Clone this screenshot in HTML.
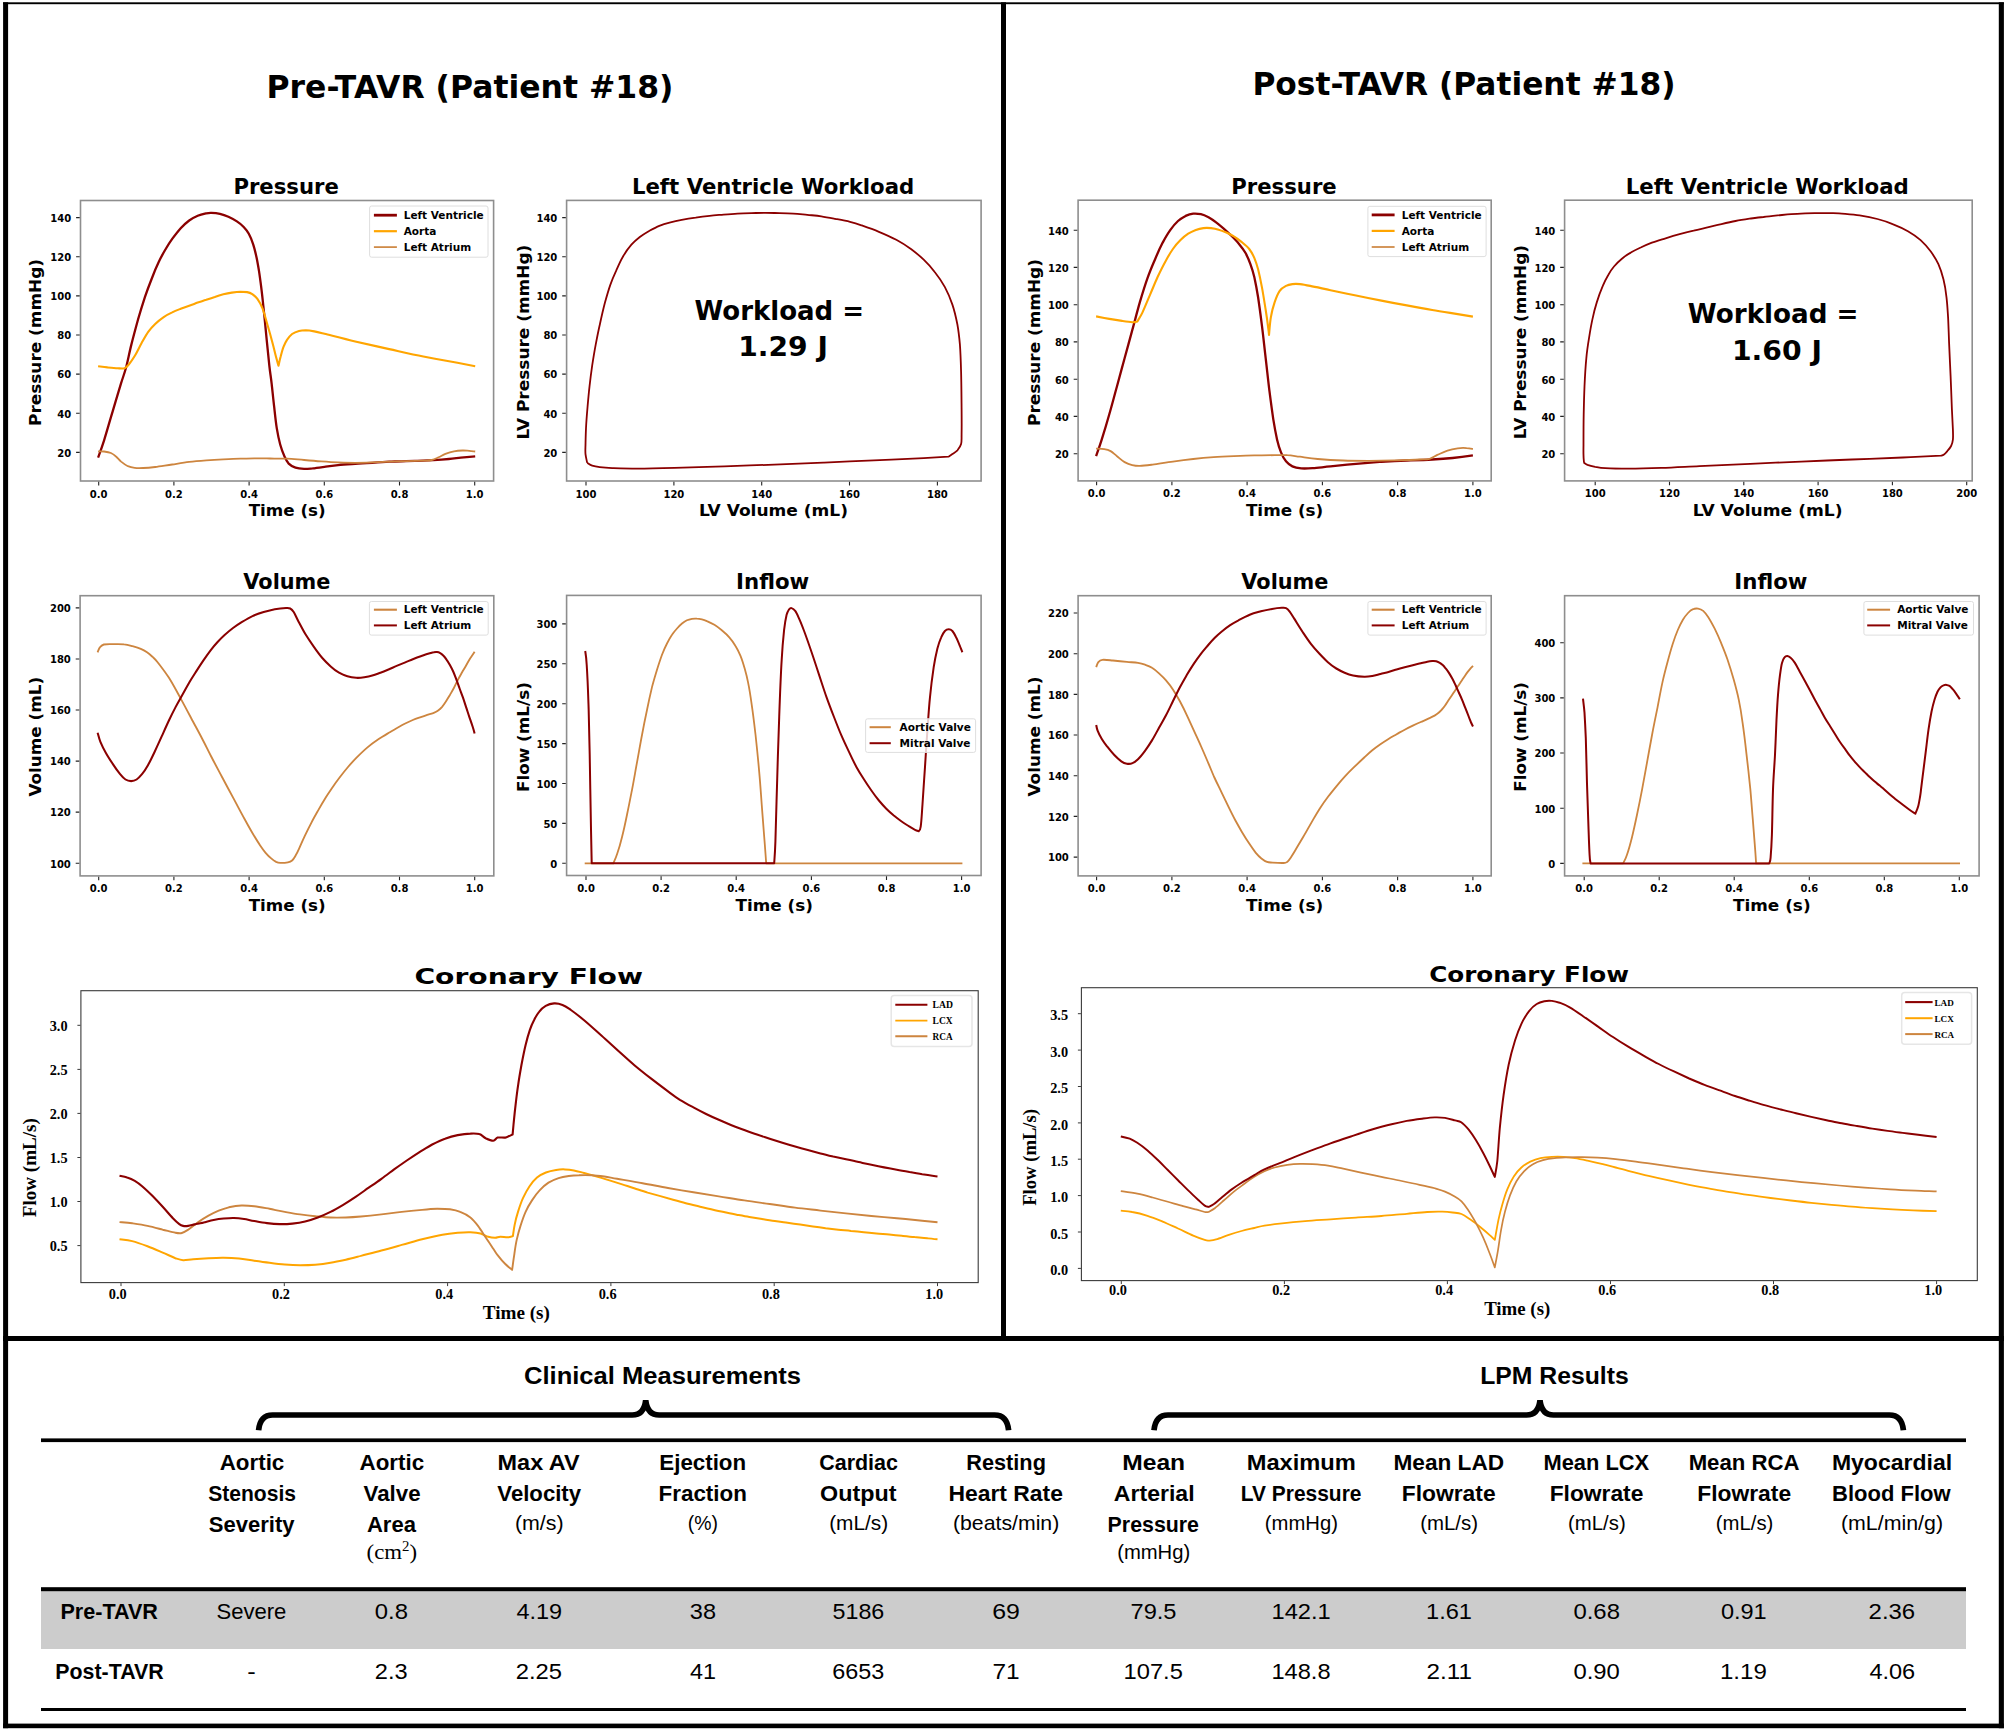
<!DOCTYPE html>
<html lang="en"><head><meta charset="utf-8"><title>Pre-TAVR vs Post-TAVR (Patient #18)</title>
<style>html,body{margin:0;padding:0;background:#fff}svg{display:block}</style></head><body>
<svg xmlns="http://www.w3.org/2000/svg" width="2006" height="1732" viewBox="0 0 2006 1732">
<rect width="2006" height="1732" fill="#fff"/>
<g fill="#000">
<rect x="3.1" y="2.3" width="2000.8" height="1.9"/>
<rect x="3.1" y="2.3" width="5" height="1725.9"/>
<rect x="1998.8" y="2.3" width="5.1" height="1725.9"/>
<rect x="3.1" y="1723.6" width="2000.8" height="4.6"/>
<rect x="3.1" y="1336" width="2000.8" height="5"/>
<rect x="1001" y="2.3" width="5" height="1336"/>
</g>
<text x="470" y="97.8" font-family="DejaVu Sans, Liberation Sans, sans-serif" font-size="31.6" font-weight="bold" text-anchor="middle" textLength="406.9" lengthAdjust="spacingAndGlyphs">Pre-TAVR (Patient #18)</text>
<text x="1464" y="94.8" font-family="DejaVu Sans, Liberation Sans, sans-serif" font-size="31.6" font-weight="bold" text-anchor="middle" textLength="423.1" lengthAdjust="spacingAndGlyphs">Post-TAVR (Patient #18)</text>
<g>
<path d="M98.1 457.6C99.1 454.8 101.7 447.9 104.1 440.3C106.5 432.6 109.7 421.2 112.6 411.7C115.4 402.1 118.8 390.7 121.1 383.2C123.4 375.8 124.5 373.4 126.2 367C127.9 360.6 129.3 352.8 131.3 344.9C133.3 336.9 135.9 327.3 138.1 319.3C140.4 311.4 142.7 304 144.9 297.2C147.2 290.4 149.5 284.3 151.8 278.5C154 272.6 156.3 267.1 158.6 262.3C160.8 257.5 163.1 253.4 165.4 249.5C167.7 245.6 169.6 242.5 172.2 238.9C174.8 235.4 177.9 231.3 180.7 228.2C183.6 225.1 186.4 222.6 189.2 220.5C192.1 218.5 194.9 217 197.7 215.8C200.6 214.6 204 213.9 206.3 213.4C208.5 212.9 209.1 212.8 211.4 212.9C213.6 213 217.1 213.3 219.9 213.9C222.7 214.6 225.6 215.6 228.4 216.8C231.2 218.1 234.4 219.7 236.9 221.4C239.5 223.1 241.7 224.9 243.7 227C245.7 229.1 247.3 231 248.8 233.8C250.4 236.7 251.8 240.2 253.1 244.1C254.4 247.9 255.5 252.6 256.5 257.2C257.5 261.8 258.2 266.1 259.1 271.6C259.9 277.2 260.8 283.3 261.6 290.4C262.5 297.5 263.3 306 264.2 314.2C265 322.5 265.9 331.3 266.7 339.8C267.6 348.3 268.5 357.9 269.3 365.3C270.1 372.7 270.9 377 271.7 384.1C272.5 391.2 273.4 400.5 274.3 407.9C275.1 415.3 275.8 422.2 276.8 428.4C277.8 434.5 278.9 439.8 280.2 444.5C281.5 449.2 283.1 453.3 284.5 456.5C285.9 459.6 286.9 461.7 288.7 463.6C290.6 465.5 293 466.8 295.5 467.7C298.1 468.6 301.2 468.8 304.1 468.9C306.9 469 309.2 468.7 312.6 468.4C316 468 320.2 467.4 324.5 466.8C328.8 466.3 333 465.7 338.1 465.1C343.2 464.6 349.5 464.2 355.2 463.8C360.8 463.4 366.5 463.1 372.2 462.8C377.9 462.4 383.6 462 389.2 461.7C394.9 461.5 400.6 461.2 406.3 461.1C411.9 460.9 418.8 460.9 423.3 460.7C427.8 460.6 429.3 460.5 433.5 460.2C437.8 459.9 444.3 459.4 448.8 459C453.4 458.6 456.4 458.1 460.8 457.6C465.2 457.2 472.8 456.5 475.2 456.3" fill="none" stroke="#8b0000" stroke-width="2.3" stroke-linejoin="round" stroke-linecap="butt"/>
<path d="M98.1 366.2C99.7 366.4 104.2 367 107.5 367.4C110.7 367.7 114.9 368.1 117.7 368.2C120.5 368.4 122.7 368.8 124.5 368.2C126.4 367.6 127.1 366.5 128.8 364.5C130.5 362.4 132.6 359.5 134.7 356C136.9 352.4 139.3 347.2 141.5 343.2C143.8 339.1 146.1 334.8 148.4 331.6C150.6 328.4 152.6 326.4 155.2 323.9C157.7 321.5 160.8 319.1 163.7 317.1C166.5 315.2 169.4 313.7 172.2 312.4C175 311 177.9 309.9 180.7 308.8C183.6 307.7 186.4 306.7 189.2 305.7C192.1 304.7 194.9 303.6 197.7 302.6C200.6 301.7 203.4 300.7 206.3 299.8C209.1 298.8 211.9 297.8 214.8 296.9C217.6 295.9 220.5 295 223.3 294.3C226.1 293.6 229 293 231.8 292.6C234.7 292.2 237.8 291.8 240.3 291.7C242.9 291.7 245.2 291.7 247.1 292.1C249.1 292.5 250.5 293 252.3 294.1C254 295.3 255.7 296.5 257.4 298.9C259.1 301.3 260.8 303.9 262.5 308.3C264.2 312.7 265.9 319.5 267.6 325.3C269.3 331.1 271.2 337.9 272.6 343.2C274 348.4 275 353 276 356.8C277 360.6 278.1 364.3 278.5 365.8C278.9 364.3 279.7 360 280.6 356.8C281.4 353.6 282.5 349.4 283.6 346.6C284.7 343.8 285.6 341.9 287 339.8C288.5 337.7 290.2 335.5 292.1 334C294.1 332.5 296.7 331.5 299 330.9C301.2 330.3 303.2 330.2 305.8 330.2C308.3 330.3 311.2 330.8 314.3 331.4C317.4 332 317.7 332.1 324.5 333.8C331.3 335.5 344.4 338.9 355.2 341.5C366 344 377.9 346.6 389.2 349.1C400.6 351.6 411.9 354.2 423.3 356.5C434.7 358.7 448.7 361.2 457.4 362.8C466 364.4 472.3 365.6 475.2 366.2" fill="none" stroke="#ffa500" stroke-width="2.1" stroke-linejoin="round" stroke-linecap="butt"/>
<path d="M98.1 451.3C99.1 451.4 101.9 451.2 104.1 451.5C106.2 451.8 108.9 452.2 110.9 453C112.9 453.9 114.3 455 116 456.5C117.7 457.9 119.1 459.9 121.1 461.6C123.1 463.2 125.6 465.1 127.9 466.2C130.2 467.2 132.2 467.6 134.7 467.9C137.3 468.2 139.8 468.2 143.2 468C146.6 467.9 150.3 467.6 155.2 467C160 466.4 166.5 465.3 172.2 464.5C177.9 463.6 183.6 462.6 189.2 461.9C194.9 461.2 200.6 460.8 206.3 460.4C211.9 459.9 217.6 459.6 223.3 459.4C229 459.1 234.7 458.8 240.3 458.7C246 458.5 252.4 458.4 257.4 458.3C262.3 458.3 265.1 458.4 270 458.5C274.9 458.6 281.4 458.4 287 458.7C292.7 458.9 298.4 459.6 304.1 460C309.7 460.5 315.4 461 321.1 461.4C326.8 461.8 332.5 462.2 338.1 462.4C343.8 462.6 349.5 462.8 355.2 462.8C360.8 462.8 366.5 462.6 372.2 462.4C377.9 462.2 383.6 461.9 389.2 461.7C394.9 461.5 400.6 461.4 406.3 461.2C411.9 461.1 419 460.9 423.3 460.7C427.6 460.5 429.3 460.6 431.8 460C434.4 459.5 436.4 458.3 438.6 457.3C440.9 456.3 442.9 454.9 445.4 453.9C448 452.9 451.1 451.9 454 451.3C456.8 450.8 459.9 450.6 462.5 450.5C465 450.4 467.2 450.7 469.3 450.8C471.4 451 474.3 451.4 475.2 451.5" fill="none" stroke="#cd853f" stroke-width="1.8" stroke-linejoin="round" stroke-linecap="butt"/>
<rect x="80.5" y="200.5" width="413.1" height="280.5" fill="none" stroke="#8e8e8e" stroke-width="1.6"/>
<path d="M98.7 481.8v3.6M173.9 481.8v3.6M249.1 481.8v3.6M324.3 481.8v3.6M399.5 481.8v3.6M474.7 481.8v3.6M79.7 452.4h-3.6M79.7 413.3h-3.6M79.7 374.1h-3.6M79.7 335h-3.6M79.7 295.9h-3.6M79.7 256.7h-3.6M79.7 217.6h-3.6" stroke="#222" stroke-width="1.1" fill="none"/>
<text x="98.7" y="497.5" font-family="DejaVu Sans, Liberation Sans, sans-serif" font-size="10" font-weight="bold" text-anchor="middle">0.0</text>
<text x="173.9" y="497.5" font-family="DejaVu Sans, Liberation Sans, sans-serif" font-size="10" font-weight="bold" text-anchor="middle">0.2</text>
<text x="249.1" y="497.5" font-family="DejaVu Sans, Liberation Sans, sans-serif" font-size="10" font-weight="bold" text-anchor="middle">0.4</text>
<text x="324.3" y="497.5" font-family="DejaVu Sans, Liberation Sans, sans-serif" font-size="10" font-weight="bold" text-anchor="middle">0.6</text>
<text x="399.5" y="497.5" font-family="DejaVu Sans, Liberation Sans, sans-serif" font-size="10" font-weight="bold" text-anchor="middle">0.8</text>
<text x="474.7" y="497.5" font-family="DejaVu Sans, Liberation Sans, sans-serif" font-size="10" font-weight="bold" text-anchor="middle">1.0</text>
<text x="71.2" y="456.7" font-family="DejaVu Sans, Liberation Sans, sans-serif" font-size="10" font-weight="bold" text-anchor="end">20</text>
<text x="71.2" y="417.6" font-family="DejaVu Sans, Liberation Sans, sans-serif" font-size="10" font-weight="bold" text-anchor="end">40</text>
<text x="71.2" y="378.4" font-family="DejaVu Sans, Liberation Sans, sans-serif" font-size="10" font-weight="bold" text-anchor="end">60</text>
<text x="71.2" y="339.3" font-family="DejaVu Sans, Liberation Sans, sans-serif" font-size="10" font-weight="bold" text-anchor="end">80</text>
<text x="71.2" y="300.2" font-family="DejaVu Sans, Liberation Sans, sans-serif" font-size="10" font-weight="bold" text-anchor="end">100</text>
<text x="71.2" y="261" font-family="DejaVu Sans, Liberation Sans, sans-serif" font-size="10" font-weight="bold" text-anchor="end">120</text>
<text x="71.2" y="221.9" font-family="DejaVu Sans, Liberation Sans, sans-serif" font-size="10" font-weight="bold" text-anchor="end">140</text>
<text x="286.1" y="194.3" font-family="DejaVu Sans, Liberation Sans, sans-serif" font-size="20.7" font-weight="bold" text-anchor="middle" textLength="105.4" lengthAdjust="spacingAndGlyphs">Pressure</text>
<text x="287.2" y="516" font-family="DejaVu Sans, Liberation Sans, sans-serif" font-size="16.6" font-weight="bold" text-anchor="middle" textLength="77" lengthAdjust="spacingAndGlyphs">Time (s)</text>
<text x="41.2" y="342.5" font-family="DejaVu Sans, Liberation Sans, sans-serif" font-size="16.6" font-weight="bold" text-anchor="middle" textLength="166.9" lengthAdjust="spacingAndGlyphs" transform="rotate(-90 41.2 342.5)">Pressure (mmHg)</text>
<rect x="369.6" y="206" width="118.4" height="51.2" rx="2" fill="#fff" fill-opacity="0.8" stroke="#dedede" stroke-width="1"/>
<path d="M373.9 215.2H396.9" stroke="#8b0000" stroke-width="2.8"/>
<text x="403.7" y="218.8" font-family="DejaVu Sans, Liberation Sans, sans-serif" font-size="10.5" font-weight="bold">Left Ventricle</text>
<path d="M373.9 231.2H396.9" stroke="#ffa500" stroke-width="2.2"/>
<text x="403.7" y="234.8" font-family="DejaVu Sans, Liberation Sans, sans-serif" font-size="10.5" font-weight="bold">Aorta</text>
<path d="M373.9 247.1H396.9" stroke="#cd853f" stroke-width="1.7"/>
<text x="403.7" y="250.7" font-family="DejaVu Sans, Liberation Sans, sans-serif" font-size="10.5" font-weight="bold">Left Atrium</text>
</g>
<g>
<path d="M587.2 462.8C586.9 461.4 585.8 457.1 585.5 454.1C585.2 451.1 585.4 449.2 585.5 444.9C585.6 440.6 585.7 434.4 586 428.2C586.3 422 586.9 414.4 587.5 407.5C588.1 400.6 588.7 393.6 589.5 386.6C590.3 379.5 591.2 372.4 592.2 365.4C593.3 358.4 594.4 351.6 595.7 344.7C597 337.8 598.4 330.7 600 323.8C601.5 316.8 603.2 309.3 604.9 302.8C606.7 296.3 608.5 290 610.4 284.6C612.3 279.3 614.1 275.3 616.2 270.7C618.2 266 620.3 261 622.9 256.7C625.4 252.4 628.5 248 631.4 244.7C634.2 241.5 637 239.2 639.8 237C642.7 234.8 645.1 233.4 648.3 231.5C651.5 229.7 655.6 227.3 659.3 225.8C663 224.3 666.7 223.3 670.5 222.3C674.2 221.3 677.5 220.6 681.7 219.8C685.9 219 691 218.2 695.7 217.6C700.3 216.9 705 216.3 709.6 215.8C714.3 215.3 718.9 215 723.6 214.6C728.2 214.2 732.9 213.8 737.5 213.6C742.2 213.3 746.8 213.2 751.5 213.1C756.1 213 760.8 212.8 765.5 212.8C770.1 212.8 774.8 213 779.4 213.1C784.1 213.2 788.7 213.3 793.4 213.6C798 213.9 802.7 214.4 807.3 214.8C812 215.3 816.6 215.7 821.3 216.3C825.9 217 830.5 217.9 835.2 218.8C840 219.7 845.6 220.7 850 221.8C854.3 222.9 856.6 223.6 861.4 225.3C866.2 227 873 229.4 878.9 231.8C884.7 234.2 890.9 236.9 896.3 239.8C901.7 242.7 906.7 245.9 911.3 249.2C915.8 252.6 919.8 255.9 923.7 259.7C927.7 263.5 931.4 267.6 934.9 272.2C938.5 276.7 942 281.7 944.9 287.1C947.8 292.5 950.3 298.3 952.4 304.6C954.5 310.8 956.1 317.9 957.4 324.5C958.6 331.2 959.2 336.6 959.9 344.4C960.5 352.3 960.8 361.1 961.1 371.9C961.4 382.7 961.5 398.9 961.6 409.3C961.7 419.6 961.7 428.4 961.6 434.2C961.5 440 961.8 441.4 961.1 444.1C960.4 446.8 958.8 448.7 957.4 450.4C955.9 452 953.8 453.1 952.4 454.1C950.9 455.2 949.3 456.2 948.7 456.6C944.5 456.9 936.2 457.5 923.7 458.1C911.3 458.7 890.5 459.6 873.9 460.3C857.3 461.1 840.6 461.9 824 462.6C807.4 463.3 790.8 464 774.2 464.6C757.6 465.2 740.9 465.8 724.3 466.3C707.7 466.9 689 467.5 674.5 467.8C659.9 468.2 647.5 468.5 637.1 468.6C626.7 468.6 618.4 468.3 612.2 468.1C605.9 467.8 603 467.5 599.7 467.1C596.4 466.7 594.3 466.3 592.2 465.6C590.1 464.9 588.1 463.3 587.2 462.8" fill="none" stroke="#8b0000" stroke-width="1.8" stroke-linejoin="round" stroke-linecap="butt"/>
<rect x="566.6" y="200.4" width="414.5" height="280.6" fill="none" stroke="#8e8e8e" stroke-width="1.6"/>
<path d="M586 481.8v3.6M673.9 481.8v3.6M761.7 481.8v3.6M849.5 481.8v3.6M937.4 481.8v3.6M565.8 452.4h-3.6M565.8 413.3h-3.6M565.8 374.1h-3.6M565.8 335h-3.6M565.8 295.9h-3.6M565.8 256.7h-3.6M565.8 217.6h-3.6" stroke="#222" stroke-width="1.1" fill="none"/>
<text x="586" y="497.5" font-family="DejaVu Sans, Liberation Sans, sans-serif" font-size="10" font-weight="bold" text-anchor="middle">100</text>
<text x="673.9" y="497.5" font-family="DejaVu Sans, Liberation Sans, sans-serif" font-size="10" font-weight="bold" text-anchor="middle">120</text>
<text x="761.7" y="497.5" font-family="DejaVu Sans, Liberation Sans, sans-serif" font-size="10" font-weight="bold" text-anchor="middle">140</text>
<text x="849.5" y="497.5" font-family="DejaVu Sans, Liberation Sans, sans-serif" font-size="10" font-weight="bold" text-anchor="middle">160</text>
<text x="937.4" y="497.5" font-family="DejaVu Sans, Liberation Sans, sans-serif" font-size="10" font-weight="bold" text-anchor="middle">180</text>
<text x="557.3" y="456.7" font-family="DejaVu Sans, Liberation Sans, sans-serif" font-size="10" font-weight="bold" text-anchor="end">20</text>
<text x="557.3" y="417.6" font-family="DejaVu Sans, Liberation Sans, sans-serif" font-size="10" font-weight="bold" text-anchor="end">40</text>
<text x="557.3" y="378.4" font-family="DejaVu Sans, Liberation Sans, sans-serif" font-size="10" font-weight="bold" text-anchor="end">60</text>
<text x="557.3" y="339.3" font-family="DejaVu Sans, Liberation Sans, sans-serif" font-size="10" font-weight="bold" text-anchor="end">80</text>
<text x="557.3" y="300.2" font-family="DejaVu Sans, Liberation Sans, sans-serif" font-size="10" font-weight="bold" text-anchor="end">100</text>
<text x="557.3" y="261" font-family="DejaVu Sans, Liberation Sans, sans-serif" font-size="10" font-weight="bold" text-anchor="end">120</text>
<text x="557.3" y="221.9" font-family="DejaVu Sans, Liberation Sans, sans-serif" font-size="10" font-weight="bold" text-anchor="end">140</text>
<text x="773.1" y="194.1" font-family="DejaVu Sans, Liberation Sans, sans-serif" font-size="20.7" font-weight="bold" text-anchor="middle" textLength="282.3" lengthAdjust="spacingAndGlyphs">Left Ventricle Workload</text>
<text x="773.5" y="516.4" font-family="DejaVu Sans, Liberation Sans, sans-serif" font-size="16.6" font-weight="bold" text-anchor="middle" textLength="148.9" lengthAdjust="spacingAndGlyphs">LV Volume (mL)</text>
<text x="529.2" y="342.1" font-family="DejaVu Sans, Liberation Sans, sans-serif" font-size="16.6" font-weight="bold" text-anchor="middle" textLength="194.9" lengthAdjust="spacingAndGlyphs" transform="rotate(-90 529.2 342.1)">LV Pressure (mmHg)</text>
<text x="779.3" y="319.5" font-family="DejaVu Sans, Liberation Sans, sans-serif" font-size="26.8" font-weight="bold" text-anchor="middle" textLength="169.6" lengthAdjust="spacingAndGlyphs">Workload =</text>
<text x="783.1" y="355.7" font-family="DejaVu Sans, Liberation Sans, sans-serif" font-size="26.8" font-weight="bold" text-anchor="middle" textLength="89.7" lengthAdjust="spacingAndGlyphs">1.29 J</text>
</g>
<g>
<path d="M97.6 652.4C97.9 651.6 98.7 648.9 99.7 647.6C100.7 646.3 101.6 645.1 103.8 644.5C106 643.9 109.5 644.1 112.9 644.1C116.3 644.1 120.8 643.9 124.1 644.3C127.4 644.6 129.7 645.4 132.5 646.2C135.3 647 138.4 647.9 140.8 648.9C143.2 649.9 145.1 651 147 652.3C148.9 653.6 150.6 655.1 152.4 656.7C154.2 658.4 154.9 658.7 157.6 662.2C160.3 665.7 165.1 671.8 168.8 677.6C172.5 683.4 176.2 690.4 179.9 697.1C183.6 703.8 187.4 711 191.1 718C194.8 725 199 732.6 202.3 739C205.7 745.4 207.9 750.1 211.2 756.5C214.5 762.9 218.6 770.5 222.3 777.5C226 784.5 229.8 791.4 233.5 798.4C237.2 805.4 241.4 813.4 244.7 819.3C247.9 825.2 250.4 829.7 253 834C255.6 838.3 257.9 842.1 260 845.2C262.1 848.3 263.7 850.6 265.6 852.8C267.5 855 269.4 856.9 271.2 858.4C272.9 859.9 274.6 861.1 276.1 861.9C277.6 862.6 278.3 862.8 280.3 862.9C282.3 863 285.9 862.7 287.9 862.3C289.9 861.9 290.8 861.6 292.1 860.5C293.4 859.4 294.4 857.6 295.6 855.6C296.8 853.6 297.6 851.9 299.1 848.6C300.6 845.4 302.6 840.5 304.7 836.1C306.8 831.7 309.4 826.5 311.7 822.1C314 817.7 316.3 813.7 318.6 809.6C320.9 805.5 323.3 801.4 325.6 797.7C327.9 794 330.3 790.6 332.6 787.2C334.9 783.8 337 780.9 339.6 777.5C342.2 774.1 345.2 770.3 348 767C350.8 763.7 353.1 761.2 356.3 757.9C359.6 754.6 363.8 750.5 367.5 747.4C371.2 744.3 375 741.6 378.7 739.1C382.4 736.6 386.8 734.1 389.8 732.3C392.8 730.5 394.1 729.7 396.6 728.3C399.1 726.9 402 725.2 404.7 723.8C407.4 722.4 410.1 721.1 412.8 720C415.5 718.9 418.1 718.1 420.8 717.2C423.5 716.3 426.7 715.1 428.9 714.4C431.1 713.7 432.3 713.4 433.8 712.8C435.3 712.2 436.5 711.7 437.8 710.7C439.1 709.8 440.5 708.7 441.9 707.1C443.2 705.5 444.6 703.4 445.9 701.4C447.2 699.4 448.5 697.3 449.9 695C451.2 692.7 452.6 690.3 454 687.7C455.4 685.1 456.6 682.2 458 679.6C459.4 677 460.8 674.6 462.1 672.3C463.5 669.9 464.8 667.8 466.1 665.5C467.4 663.2 468.7 660.9 470.1 658.6C471.5 656.3 473.9 652.9 474.6 651.7" fill="none" stroke="#cd853f" stroke-width="1.85" stroke-linejoin="round" stroke-linecap="butt"/>
<path d="M97.6 732.7C98.1 734.2 99 738.4 100.4 741.8C101.8 745.2 103.8 749.2 105.9 752.9C108 756.6 110.6 760.6 112.9 764.1C115.2 767.6 117.8 771.3 119.9 773.9C122 776.5 123.6 778.3 125.5 779.5C127.4 780.7 129.2 781.1 131.1 781.1C132.9 781.1 134.8 780.7 136.6 779.5C138.4 778.3 140.3 776.2 142.2 773.9C144.1 771.6 145.7 769.2 147.8 765.5C149.9 761.8 152.5 756.4 154.8 751.5C157.1 746.6 159.5 741.3 161.8 736.2C164.1 731.1 166.5 725.7 168.8 720.8C171.1 715.9 173.4 711.3 175.7 706.9C178 702.5 180.4 698.5 182.7 694.3C185 690.1 187.4 685.8 189.7 681.8C192 677.8 194.4 674.2 196.7 670.6C199 667 201.3 663.5 203.6 660.1C205.9 656.7 208.3 653.3 210.6 650.3C212.9 647.3 215.3 644.5 217.6 642C219.9 639.5 222 637.3 224.6 635C227.2 632.7 230.2 630.1 233 628C235.8 625.9 238.1 624.4 241.3 622.4C244.6 620.4 248.8 617.8 252.5 616.1C256.2 614.4 260 613.1 263.7 612C267.4 610.9 271.1 609.9 274.8 609.2C278.5 608.6 283.4 608.2 286 608.1C288.6 608 288.9 607.9 290.2 608.5C291.5 609.1 292.3 609.8 293.7 612C295.1 614.2 296.6 618 298.6 621.7C300.6 625.4 302.9 630.1 305.5 634.3C308.1 638.5 311.1 642.9 313.9 646.9C316.7 650.9 319.5 654.8 322.3 658C325.1 661.2 327.9 663.9 330.7 666.4C333.5 668.9 336.2 671.1 339 672.7C341.8 674.3 344.5 675.4 347.4 676.2C350.3 677.1 353.4 677.6 356.2 677.8C359 678 361.6 677.7 364.3 677.3C367 676.9 369.6 676.4 372.3 675.6C375 674.8 377.7 673.7 380.4 672.7C383.1 671.7 385.8 670.6 388.5 669.5C391.2 668.4 393.9 667 396.6 665.9C399.3 664.8 402 663.7 404.7 662.6C407.4 661.5 410.1 660.3 412.8 659.2C415.5 658.1 418.1 657.1 420.8 656.2C423.5 655.3 426.7 654.2 428.9 653.6C431.1 653 432.4 652.5 433.8 652.3C435.2 652 435.9 652 437 652.1C438.1 652.2 439.1 652.5 440.2 653.1C441.3 653.7 442.4 654.7 443.5 655.8C444.6 656.9 445.6 658.2 446.7 659.8C447.8 661.3 448.8 663.1 449.9 665.1C451 667.1 452.1 669.1 453.2 671.5C454.3 673.9 455.3 676.8 456.4 679.6C457.5 682.4 458.5 685.5 459.6 688.5C460.7 691.5 461.8 694.3 462.9 697.4C464 700.5 465 703.9 466.1 707.1C467.2 710.3 468.2 713.6 469.3 716.8C470.4 720 471.7 723.7 472.6 726.5C473.5 729.3 474.3 732.2 474.6 733.4" fill="none" stroke="#8b0000" stroke-width="2.05" stroke-linejoin="round" stroke-linecap="butt"/>
<rect x="80.1" y="595.7" width="413.7" height="280.2" fill="none" stroke="#8e8e8e" stroke-width="1.6"/>
<path d="M98.7 876.7v3.6M173.9 876.7v3.6M249.1 876.7v3.6M324.3 876.7v3.6M399.5 876.7v3.6M474.7 876.7v3.6M79.3 863.2h-3.6M79.3 812.1h-3.6M79.3 761.1h-3.6M79.3 710h-3.6M79.3 659h-3.6M79.3 607.9h-3.6" stroke="#222" stroke-width="1.1" fill="none"/>
<text x="98.7" y="892.4" font-family="DejaVu Sans, Liberation Sans, sans-serif" font-size="10" font-weight="bold" text-anchor="middle">0.0</text>
<text x="173.9" y="892.4" font-family="DejaVu Sans, Liberation Sans, sans-serif" font-size="10" font-weight="bold" text-anchor="middle">0.2</text>
<text x="249.1" y="892.4" font-family="DejaVu Sans, Liberation Sans, sans-serif" font-size="10" font-weight="bold" text-anchor="middle">0.4</text>
<text x="324.3" y="892.4" font-family="DejaVu Sans, Liberation Sans, sans-serif" font-size="10" font-weight="bold" text-anchor="middle">0.6</text>
<text x="399.5" y="892.4" font-family="DejaVu Sans, Liberation Sans, sans-serif" font-size="10" font-weight="bold" text-anchor="middle">0.8</text>
<text x="474.7" y="892.4" font-family="DejaVu Sans, Liberation Sans, sans-serif" font-size="10" font-weight="bold" text-anchor="middle">1.0</text>
<text x="70.8" y="867.5" font-family="DejaVu Sans, Liberation Sans, sans-serif" font-size="10" font-weight="bold" text-anchor="end">100</text>
<text x="70.8" y="816.4" font-family="DejaVu Sans, Liberation Sans, sans-serif" font-size="10" font-weight="bold" text-anchor="end">120</text>
<text x="70.8" y="765.4" font-family="DejaVu Sans, Liberation Sans, sans-serif" font-size="10" font-weight="bold" text-anchor="end">140</text>
<text x="70.8" y="714.3" font-family="DejaVu Sans, Liberation Sans, sans-serif" font-size="10" font-weight="bold" text-anchor="end">160</text>
<text x="70.8" y="663.3" font-family="DejaVu Sans, Liberation Sans, sans-serif" font-size="10" font-weight="bold" text-anchor="end">180</text>
<text x="70.8" y="612.2" font-family="DejaVu Sans, Liberation Sans, sans-serif" font-size="10" font-weight="bold" text-anchor="end">200</text>
<text x="286.9" y="589.4" font-family="DejaVu Sans, Liberation Sans, sans-serif" font-size="20.7" font-weight="bold" text-anchor="middle" textLength="87.1" lengthAdjust="spacingAndGlyphs">Volume</text>
<text x="287.2" y="911" font-family="DejaVu Sans, Liberation Sans, sans-serif" font-size="16.6" font-weight="bold" text-anchor="middle" textLength="77" lengthAdjust="spacingAndGlyphs">Time (s)</text>
<text x="41.2" y="736.7" font-family="DejaVu Sans, Liberation Sans, sans-serif" font-size="16.6" font-weight="bold" text-anchor="middle" textLength="119.7" lengthAdjust="spacingAndGlyphs" transform="rotate(-90 41.2 736.7)">Volume (mL)</text>
<rect x="369.4" y="601.5" width="118.8" height="33.6" rx="2" fill="#fff" fill-opacity="0.8" stroke="#dedede" stroke-width="1"/>
<path d="M373.9 609.7H396.9" stroke="#cd853f" stroke-width="2.1"/>
<text x="403.7" y="613.3" font-family="DejaVu Sans, Liberation Sans, sans-serif" font-size="10.5" font-weight="bold">Left Ventricle</text>
<path d="M373.9 625.4H396.9" stroke="#8b0000" stroke-width="2.0"/>
<text x="403.7" y="629" font-family="DejaVu Sans, Liberation Sans, sans-serif" font-size="10.5" font-weight="bold">Left Atrium</text>
</g>
<g>
<path d="M584.7 863.3L613.4 863.3C614 861.8 615.7 858.5 617.1 854.1C618.6 849.7 620.5 843.3 622.1 836.7C623.8 830 625.5 822.1 627.1 814.2C628.8 806.3 630.4 798 632.1 789.3C633.8 780.6 635.4 771 637.1 761.9C638.8 752.7 640.4 743.2 642.1 734.5C643.7 725.7 645.4 717.4 647.1 709.5C648.7 701.6 650.4 693.8 652 687.1C653.7 680.5 655.4 675.1 657 669.7C658.7 664.3 660.4 659.1 662 654.7C663.7 650.3 665.3 646.8 667 643.5C668.7 640.2 670.3 637.3 672 634.8C673.6 632.3 675.3 630.4 677 628.5C678.6 626.7 680.3 624.9 682 623.5C683.6 622.2 685.3 621.1 686.9 620.3C688.6 619.5 690.3 619.1 691.9 618.8C693.6 618.5 695.2 618.5 696.9 618.6C698.6 618.6 700.2 618.9 701.9 619.3C703.6 619.7 704.8 620.1 706.9 621.1C709 622 711.9 623.3 714.4 624.8C716.8 626.3 719.3 628.2 721.8 630.3C724.3 632.4 727 634.6 729.3 637.3C731.6 639.9 733.7 642.9 735.5 646C737.4 649.1 739.1 652.4 740.5 655.9C742 659.5 743 662.8 744.3 667.2C745.5 671.5 746.8 675.9 748 682.1C749.3 688.3 750.5 695.8 751.7 704.6C753 713.3 754.2 723.2 755.5 734.5C756.7 745.7 758.2 760.2 759.2 771.8C760.3 783.5 760.9 793.5 761.7 804.3C762.5 815.1 763.5 826.8 764.2 836.7C765 846.5 765.9 858.9 766.2 863.3L962.4 863.3" fill="none" stroke="#cd853f" stroke-width="1.8" stroke-linejoin="round" stroke-linecap="butt"/>
<path d="M585.2 651C585.5 653.2 586.2 655.7 586.7 664.7C587.3 673.6 588 689.6 588.5 704.6C589 719.5 589.3 733.6 589.7 754.4C590.1 775.2 590.6 811 591 829.2C591.3 847.3 591.6 857.6 591.7 863.3L774.2 863.3C774.4 859.7 774.9 855.6 775.4 841.6C775.9 827.6 776.5 800.1 777.2 779.3C777.8 758.6 778.4 737 779.2 717C779.9 697.1 780.8 674.2 781.7 659.7C782.5 645.1 783.3 637.3 784.1 629.8C785 622.3 785.8 618.2 786.6 614.8C787.5 611.4 788.3 610.5 789.1 609.3C790 608.2 790.6 607.8 791.6 608.1C792.7 608.4 794.1 609.3 795.4 611.1C796.6 612.8 797.6 615.2 799.1 618.6C800.6 621.9 802 625.4 804.1 631C806.2 636.6 809.1 644.9 811.6 652.2C814.1 659.5 816.6 667.2 819 674.6C821.5 682.1 824 690 826.5 697.1C829 704.1 831.5 710.6 834 717C836.5 723.5 839 729.9 841.5 735.7C844 741.5 846.5 746.7 849 751.9C851.4 757.1 853.9 762.3 856.4 766.9C858.9 771.4 861.4 775.4 863.9 779.3C866.4 783.3 868.9 787 871.4 790.5C873.9 794.1 876.4 797.5 878.9 800.5C881.4 803.5 883.8 806.2 886.3 808.7C888.8 811.2 891.3 813.4 893.8 815.5C896.3 817.5 898.8 819.4 901.3 821.2C903.8 823 906.5 824.7 908.8 826.2C911.1 827.6 913.3 829.1 915 829.9C916.7 830.8 918.1 831 918.7 831.2C919.1 830.4 920.1 831.2 920.7 826.7C921.4 822.2 921.8 814.2 922.5 804.3C923.2 794.3 924.1 779.3 925 766.9C925.8 754.4 926.6 741.1 927.5 729.5C928.3 717.8 928.9 707.5 930 697.1C931 686.7 932.5 675.3 933.7 667.2C934.9 659.1 936.2 653.5 937.4 648.5C938.7 643.5 939.9 640.2 941.2 637.3C942.4 634.3 943.7 632.4 944.9 631C946.2 629.7 947.4 629.3 948.7 629.3C949.9 629.3 951.1 629.7 952.4 631C953.6 632.4 954.9 634.8 956.1 637.3C957.4 639.7 958.8 643.5 959.9 646C960.9 648.5 961.9 651.2 962.4 652.2" fill="none" stroke="#8b0000" stroke-width="2.0" stroke-linejoin="round" stroke-linecap="butt"/>
<rect x="566.6" y="595.4" width="414.5" height="280.1" fill="none" stroke="#8e8e8e" stroke-width="1.6"/>
<path d="M586 876.3v3.6M661.1 876.3v3.6M736.2 876.3v3.6M811.4 876.3v3.6M886.5 876.3v3.6M961.6 876.3v3.6M565.8 863.3h-3.6M565.8 823.4h-3.6M565.8 783.5h-3.6M565.8 743.6h-3.6M565.8 703.7h-3.6M565.8 663.8h-3.6M565.8 623.9h-3.6" stroke="#222" stroke-width="1.1" fill="none"/>
<text x="586" y="892" font-family="DejaVu Sans, Liberation Sans, sans-serif" font-size="10" font-weight="bold" text-anchor="middle">0.0</text>
<text x="661.1" y="892" font-family="DejaVu Sans, Liberation Sans, sans-serif" font-size="10" font-weight="bold" text-anchor="middle">0.2</text>
<text x="736.2" y="892" font-family="DejaVu Sans, Liberation Sans, sans-serif" font-size="10" font-weight="bold" text-anchor="middle">0.4</text>
<text x="811.4" y="892" font-family="DejaVu Sans, Liberation Sans, sans-serif" font-size="10" font-weight="bold" text-anchor="middle">0.6</text>
<text x="886.5" y="892" font-family="DejaVu Sans, Liberation Sans, sans-serif" font-size="10" font-weight="bold" text-anchor="middle">0.8</text>
<text x="961.6" y="892" font-family="DejaVu Sans, Liberation Sans, sans-serif" font-size="10" font-weight="bold" text-anchor="middle">1.0</text>
<text x="557.3" y="867.6" font-family="DejaVu Sans, Liberation Sans, sans-serif" font-size="10" font-weight="bold" text-anchor="end">0</text>
<text x="557.3" y="827.7" font-family="DejaVu Sans, Liberation Sans, sans-serif" font-size="10" font-weight="bold" text-anchor="end">50</text>
<text x="557.3" y="787.8" font-family="DejaVu Sans, Liberation Sans, sans-serif" font-size="10" font-weight="bold" text-anchor="end">100</text>
<text x="557.3" y="747.9" font-family="DejaVu Sans, Liberation Sans, sans-serif" font-size="10" font-weight="bold" text-anchor="end">150</text>
<text x="557.3" y="708" font-family="DejaVu Sans, Liberation Sans, sans-serif" font-size="10" font-weight="bold" text-anchor="end">200</text>
<text x="557.3" y="668.1" font-family="DejaVu Sans, Liberation Sans, sans-serif" font-size="10" font-weight="bold" text-anchor="end">250</text>
<text x="557.3" y="628.2" font-family="DejaVu Sans, Liberation Sans, sans-serif" font-size="10" font-weight="bold" text-anchor="end">300</text>
<text x="772.7" y="589.4" font-family="DejaVu Sans, Liberation Sans, sans-serif" font-size="20.7" font-weight="bold" text-anchor="middle" textLength="73.2" lengthAdjust="spacingAndGlyphs">Inflow</text>
<text x="774.2" y="911" font-family="DejaVu Sans, Liberation Sans, sans-serif" font-size="16.6" font-weight="bold" text-anchor="middle" textLength="77.4" lengthAdjust="spacingAndGlyphs">Time (s)</text>
<text x="529.2" y="737.1" font-family="DejaVu Sans, Liberation Sans, sans-serif" font-size="16.6" font-weight="bold" text-anchor="middle" textLength="109.9" lengthAdjust="spacingAndGlyphs" transform="rotate(-90 529.2 737.1)">Flow (mL/s)</text>
<rect x="865.6" y="718.8" width="110" height="33.6" rx="2" fill="#fff" fill-opacity="0.8" stroke="#dedede" stroke-width="1"/>
<path d="M869.6 727.2H890.8" stroke="#cd853f" stroke-width="2.0"/>
<text x="899.6" y="730.8" font-family="DejaVu Sans, Liberation Sans, sans-serif" font-size="10.5" font-weight="bold">Aortic Valve</text>
<path d="M869.6 743.2H890.8" stroke="#8b0000" stroke-width="2.0"/>
<text x="899.6" y="746.8" font-family="DejaVu Sans, Liberation Sans, sans-serif" font-size="10.5" font-weight="bold">Mitral Valve</text>
</g>
<g>
<path d="M119.5 1239.3C121.6 1239.6 127.6 1240 132.2 1241.1C136.9 1242.3 142.4 1244.3 147.5 1246.2C152.6 1248.1 158.1 1250.6 162.7 1252.6C167.4 1254.6 172 1256.9 175.4 1258.2C178.8 1259.4 180.1 1260 183.1 1260.2C186 1260.4 189 1259.5 193.2 1259.2C197.5 1258.8 203.4 1258.4 208.5 1258.2C213.6 1257.9 218.7 1257.6 223.7 1257.7C228.8 1257.7 233.9 1257.9 239 1258.4C244.1 1258.9 249.2 1260 254.3 1260.7C259.3 1261.4 264.4 1262.1 269.5 1262.7C274.6 1263.4 279.7 1264.1 284.8 1264.5C289.9 1264.9 294.9 1265.2 300 1265.3C305.1 1265.3 310.2 1265.2 315.3 1264.8C320.4 1264.3 325.5 1263.6 330.5 1262.7C335.6 1261.9 340.7 1260.8 345.8 1259.7C350.9 1258.5 355.1 1257.4 361 1255.9C367 1254.3 374.6 1252.4 381.4 1250.5C388.2 1248.7 394.9 1246.8 401.7 1244.9C408.5 1243.1 415.3 1241 422.1 1239.3C428.8 1237.7 436.5 1235.9 442.4 1234.8C448.3 1233.7 453 1233.2 457.7 1232.7C462.3 1232.3 466.6 1232.1 470.4 1232.2C474.2 1232.4 477.6 1232.7 480.5 1233.5C483.5 1234.3 485.8 1236.1 488.2 1236.8C490.6 1237.5 493.1 1237.8 495.1 1237.8C497.1 1237.8 498.1 1236.9 500.2 1236.8C502.3 1236.7 505.7 1237.4 507.8 1237.3C509.9 1237.2 512 1236.3 512.9 1236C513.2 1234.1 513.8 1228.6 514.7 1224.6C515.5 1220.6 516.6 1216.3 518 1211.9C519.4 1207.4 521.1 1202.1 523.1 1197.9C525 1193.7 527.1 1189.9 529.4 1186.5C531.7 1183.1 534.3 1179.9 537 1177.6C539.8 1175.2 542.8 1173.7 545.9 1172.5C549.1 1171.2 552.9 1170.4 556.1 1169.9C559.3 1169.4 562 1169.3 565 1169.4C568 1169.5 570.7 1169.8 573.9 1170.4C577.1 1171 580.3 1172 584.1 1173C587.9 1174 592.6 1175.3 596.8 1176.5C601 1177.8 605.3 1179 609.5 1180.4C613.7 1181.7 618 1183.1 622.2 1184.4C626.5 1185.8 630.7 1187.1 634.9 1188.5C639.2 1189.9 643.4 1191.3 647.6 1192.6C651.9 1193.8 656.1 1194.9 660.4 1196.1C664.6 1197.3 668.8 1198.5 673.1 1199.7C677.3 1200.9 681.5 1202.1 685.8 1203.2C690 1204.3 694.3 1205.3 698.5 1206.3C702.7 1207.3 707 1208.4 711.2 1209.3C715.4 1210.3 719.7 1211.3 723.9 1212.1C728.2 1213 732.4 1213.9 736.6 1214.7C740.9 1215.5 745.1 1216.3 749.3 1217C753.6 1217.7 757.8 1218.3 762.1 1219C766.3 1219.7 770.5 1220.4 774.8 1221C779 1221.7 783.2 1222.2 787.5 1222.8C791.7 1223.4 796 1224 800.2 1224.6C804.4 1225.2 808.7 1225.8 812.9 1226.4C817.1 1227 821.4 1227.6 825.6 1228.2C829.9 1228.7 834.1 1229.2 838.3 1229.7C842.6 1230.2 846.8 1230.5 851 1231C855.3 1231.4 859.5 1231.8 863.8 1232.2C868 1232.7 872.2 1233.1 876.5 1233.5C880.7 1233.9 884.9 1234.1 889.2 1234.5C893.4 1234.9 897.7 1235.4 901.9 1235.8C906.1 1236.2 910.4 1236.6 914.6 1237.1C918.8 1237.5 923.5 1237.9 927.3 1238.3C931.1 1238.7 935.8 1239.2 937.5 1239.3" fill="none" stroke="#ffa500" stroke-width="2.0" stroke-linejoin="round" stroke-linecap="butt"/>
<path d="M119.5 1222.1C121.6 1222.3 127.6 1222.7 132.2 1223.3C136.9 1224 142.4 1224.8 147.5 1225.9C152.6 1226.9 158.1 1228.5 162.7 1229.7C167.4 1230.8 172.3 1232.2 175.4 1232.7C178.6 1233.3 179.7 1233.5 181.8 1233C183.9 1232.5 185.4 1231.5 188.2 1229.7C190.9 1227.9 194.9 1224.4 198.3 1222.1C201.7 1219.7 205.1 1217.6 208.5 1215.7C211.9 1213.8 215.3 1212 218.7 1210.6C222.1 1209.2 225 1208.2 228.8 1207.3C232.6 1206.5 237.3 1205.7 241.5 1205.5C245.8 1205.4 249.6 1205.7 254.3 1206.3C258.9 1206.8 264.4 1207.9 269.5 1208.8C274.6 1209.8 279.7 1211 284.8 1211.9C289.9 1212.8 294.9 1213.7 300 1214.4C305.1 1215.1 310.2 1215.7 315.3 1216.2C320.4 1216.7 325.5 1217.3 330.5 1217.5C335.6 1217.7 340.7 1217.6 345.8 1217.5C350.9 1217.3 355.1 1217 361 1216.5C367 1216 374.6 1215.2 381.4 1214.4C388.2 1213.7 394.9 1212.6 401.7 1211.9C408.5 1211.1 416.1 1210.4 422.1 1209.9C428 1209.3 432.7 1208.9 437.3 1208.8C442 1208.8 446.2 1208.8 450 1209.3C453.9 1209.9 456.8 1210.5 460.2 1211.9C463.6 1213.2 467.4 1215.1 470.4 1217.5C473.3 1219.8 475.5 1222.6 478 1225.9C480.5 1229.2 483.1 1233.5 485.6 1237.3C488.2 1241.1 491.3 1245.8 493.3 1248.8C495.3 1251.7 495.6 1252.6 497.6 1255.1C499.6 1257.7 502.8 1261.6 505.3 1264C507.7 1266.5 511 1268.9 512.1 1269.9C512.5 1267.4 513.4 1260.1 514.2 1255.1C514.9 1250.1 515.6 1244.7 516.7 1239.9C517.8 1235 519 1230.5 520.5 1225.9C522 1221.2 523.7 1216.1 525.6 1211.9C527.5 1207.6 529.6 1204 532 1200.4C534.3 1196.8 536.8 1193.2 539.6 1190.3C542.3 1187.3 545.3 1184.7 548.5 1182.6C551.7 1180.6 555.3 1179.2 558.6 1178.1C562 1177 565.4 1176.5 568.8 1176C572.2 1175.6 575.2 1175.4 579 1175.3C582.8 1175.1 587.5 1175.1 591.7 1175.3C595.9 1175.5 600.2 1176 604.4 1176.5C608.7 1177.1 610.8 1177.7 617.1 1178.8C623.5 1179.9 634.1 1181.6 642.6 1183.2C651 1184.7 659.5 1186.5 668 1188C676.5 1189.5 684.9 1190.9 693.4 1192.3C701.9 1193.7 710.4 1195 718.8 1196.4C727.3 1197.7 735.8 1199.2 744.3 1200.4C752.7 1201.7 761.2 1202.8 769.7 1204C778.2 1205.2 786.6 1206.5 795.1 1207.6C803.6 1208.7 812.1 1209.6 820.5 1210.6C829 1211.6 837.5 1212.5 846 1213.4C854.4 1214.3 862.9 1215.1 871.4 1216C879.9 1216.8 888.3 1217.4 896.8 1218.2C905.3 1219 915.5 1220.1 922.2 1220.8C929 1221.5 935 1222.1 937.5 1222.3" fill="none" stroke="#cd853f" stroke-width="1.9" stroke-linejoin="round" stroke-linecap="butt"/>
<path d="M119.5 1175.8C120.8 1176.1 124.6 1176.7 127.1 1177.6C129.7 1178.4 132.2 1179.4 134.8 1180.9C137.3 1182.4 139.4 1183.9 142.4 1186.5C145.4 1189 149.2 1192.7 152.6 1196.1C155.9 1199.5 159.3 1203.1 162.7 1206.8C166.1 1210.5 170.1 1215.4 172.9 1218.2C175.7 1221.1 177.6 1222.8 179.3 1224.1C180.9 1225.4 181.6 1225.6 183.1 1225.9C184.5 1226.2 186 1226.2 188.2 1225.9C190.3 1225.6 193.2 1224.6 195.8 1224.1C198.3 1223.5 200.4 1223.2 203.4 1222.6C206.4 1221.9 210.2 1220.7 213.6 1220C217 1219.3 220.4 1218.8 223.7 1218.5C227.1 1218.2 230.5 1217.9 233.9 1218C237.3 1218.1 240.7 1218.5 244.1 1219C247.5 1219.5 250.4 1220.4 254.3 1221C258.1 1221.7 262.7 1222.6 267 1223.1C271.2 1223.6 275.4 1224 279.7 1224.1C283.9 1224.2 288.2 1224 292.4 1223.6C296.6 1223.2 300.9 1222.6 305.1 1221.5C309.3 1220.5 313.6 1219.1 317.8 1217.5C322.1 1215.9 326.3 1214 330.5 1211.9C334.8 1209.8 339 1207.3 343.2 1204.8C347.5 1202.2 351.7 1199.5 356 1196.6C360.2 1193.8 364.4 1190.7 368.7 1187.7C372.9 1184.8 377.2 1181.9 381.4 1178.8C385.6 1175.8 389.9 1172.5 394.1 1169.4C398.3 1166.4 402.6 1163.4 406.8 1160.5C411.1 1157.6 415.3 1154.8 419.5 1152.1C423.8 1149.5 428 1146.8 432.2 1144.5C436.5 1142.3 440.7 1140.2 445 1138.7C449.2 1137.1 453.4 1135.9 457.7 1135.1C461.9 1134.3 466.8 1133.7 470.4 1133.6C474 1133.4 476.7 1133.3 479.3 1134.1C481.8 1134.8 483.3 1137 485.6 1138.2C488 1139.3 491.3 1140.8 493.3 1140.7C495.3 1140.6 495.6 1138.2 497.6 1137.6C499.6 1137.1 503.3 1137.9 505.3 1137.6C507.2 1137.4 507.8 1136.6 509.1 1136.1C510.3 1135.6 512 1134.8 512.6 1134.6C512.8 1132.3 513.4 1125.7 513.9 1120.6C514.4 1115.5 515 1109.7 515.7 1103.8C516.4 1097.9 517.1 1091.7 518.1 1085.3C519 1078.8 520.2 1071.9 521.4 1065.2C522.7 1058.5 524.2 1050.9 525.6 1045.1C527 1039.2 528.4 1034.2 529.8 1030.1C531.2 1025.9 532.4 1023.2 534 1020.2C535.5 1017.1 537.1 1014.2 539.1 1011.8C541 1009.4 543.2 1007.3 545.7 1005.9C548.2 1004.5 551.3 1003.6 554.1 1003.4C556.9 1003.2 559.7 1003.8 562.5 1004.9C565.3 1006 567.3 1007.5 570.9 1010C574.5 1012.5 579 1016 584.1 1020.2C589.1 1024.4 595.5 1030.2 601.1 1035.2C606.7 1040.2 612.1 1045.2 617.6 1050.2C623.2 1055.2 628.8 1060.4 634.4 1065.2C640 1069.9 645.6 1074.3 651.2 1078.7C656.8 1083 663.2 1087.9 668 1091.4C672.8 1094.9 675.7 1097.1 679.9 1099.8C684.2 1102.4 689 1105 693.4 1107.4C697.8 1109.8 701.9 1111.9 706.1 1114C710.4 1116.1 714.6 1118 718.8 1119.8C723.1 1121.7 727.3 1123.5 731.5 1125.2C735.8 1126.9 740 1128.4 744.3 1130C748.5 1131.6 752.7 1133.2 757 1134.6C761.2 1136 765.4 1137.3 769.7 1138.7C773.9 1140 778.2 1141.4 782.4 1142.7C786.6 1144 790.9 1145.3 795.1 1146.5C799.3 1147.8 803.6 1149 807.8 1150.1C812.1 1151.2 816.3 1152.3 820.5 1153.4C824.8 1154.5 829 1155.5 833.2 1156.5C837.5 1157.4 841.7 1158.3 846 1159.3C850.2 1160.2 854.4 1161.1 858.7 1162.1C862.9 1163 867.2 1164 871.4 1164.8C875.6 1165.7 879.9 1166.6 884.1 1167.4C888.3 1168.2 892.6 1168.9 896.8 1169.7C901.1 1170.4 905.3 1171.2 909.5 1172C913.8 1172.7 917.6 1173.5 922.2 1174.3C926.9 1175 935 1176.2 937.5 1176.5" fill="none" stroke="#8b0000" stroke-width="2.1" stroke-linejoin="round" stroke-linecap="butt"/>
<rect x="80.9" y="990.7" width="897.3" height="291.9" fill="none" stroke="#3a3a3a" stroke-width="1.1"/>
<path d="M121 1283.1v3.0M284.3 1283.1v3.0M447.6 1283.1v3.0M610.9 1283.1v3.0M774.2 1283.1v3.0M937.5 1283.1v3.0M80.4 1245.6h-3.0M80.4 1201.5h-3.0M80.4 1157.5h-3.0M80.4 1113.4h-3.0M80.4 1069.4h-3.0M80.4 1025.3h-3.0" stroke="#222" stroke-width="0.9" fill="none"/>
<text x="117.7" y="1298.5" font-family="Liberation Serif, serif" font-size="14.3" font-weight="bold" text-anchor="middle">0.0</text>
<text x="281" y="1298.5" font-family="Liberation Serif, serif" font-size="14.3" font-weight="bold" text-anchor="middle">0.2</text>
<text x="444.3" y="1298.5" font-family="Liberation Serif, serif" font-size="14.3" font-weight="bold" text-anchor="middle">0.4</text>
<text x="607.6" y="1298.5" font-family="Liberation Serif, serif" font-size="14.3" font-weight="bold" text-anchor="middle">0.6</text>
<text x="770.9" y="1298.5" font-family="Liberation Serif, serif" font-size="14.3" font-weight="bold" text-anchor="middle">0.8</text>
<text x="934.2" y="1298.5" font-family="Liberation Serif, serif" font-size="14.3" font-weight="bold" text-anchor="middle">1.0</text>
<text x="67.6" y="1251.4" font-family="Liberation Serif, serif" font-size="14.3" font-weight="bold" text-anchor="end">0.5</text>
<text x="67.6" y="1207.3" font-family="Liberation Serif, serif" font-size="14.3" font-weight="bold" text-anchor="end">1.0</text>
<text x="67.6" y="1163.3" font-family="Liberation Serif, serif" font-size="14.3" font-weight="bold" text-anchor="end">1.5</text>
<text x="67.6" y="1119.2" font-family="Liberation Serif, serif" font-size="14.3" font-weight="bold" text-anchor="end">2.0</text>
<text x="67.6" y="1075.2" font-family="Liberation Serif, serif" font-size="14.3" font-weight="bold" text-anchor="end">2.5</text>
<text x="67.6" y="1031.1" font-family="Liberation Serif, serif" font-size="14.3" font-weight="bold" text-anchor="end">3.0</text>
<text x="528.7" y="984.3" font-family="DejaVu Sans, Liberation Sans, sans-serif" font-size="20.7" font-weight="bold" text-anchor="middle" textLength="228.5" lengthAdjust="spacingAndGlyphs">Coronary Flow</text>
<text x="516.3" y="1318.7" font-family="Liberation Serif, serif" font-size="18.5" font-weight="bold" text-anchor="middle" textLength="67.1" lengthAdjust="spacingAndGlyphs">Time (s)</text>
<text x="35.6" y="1167.7" font-family="Liberation Serif, serif" font-size="18.5" font-weight="bold" text-anchor="middle" textLength="99.1" lengthAdjust="spacingAndGlyphs" transform="rotate(-90 35.6 1167.7)">Flow (mL/s)</text>
<rect x="891.2" y="995.4" width="80.8" height="51" rx="3" fill="#fff" fill-opacity="0.8" stroke="#e6e6e6" stroke-width="1.5"/>
<path d="M895.3 1004.8H927.4" stroke="#8b0000" stroke-width="2.1"/>
<text x="932.6" y="1008.1" font-family="Liberation Serif, serif" font-size="9.3" font-weight="bold" textLength="20.4" lengthAdjust="spacingAndGlyphs">LAD</text>
<path d="M895.3 1020.6H927.4" stroke="#ffa500" stroke-width="1.7"/>
<text x="932.6" y="1023.9" font-family="Liberation Serif, serif" font-size="9.3" font-weight="bold" textLength="20" lengthAdjust="spacingAndGlyphs">LCX</text>
<path d="M895.3 1036.3H927.4" stroke="#cd853f" stroke-width="1.9"/>
<text x="932.6" y="1039.6" font-family="Liberation Serif, serif" font-size="9.3" font-weight="bold" textLength="20" lengthAdjust="spacingAndGlyphs">RCA</text>
</g>
<g>
<path d="M1096.1 456.2C1097 453.5 1099.5 446.7 1101.7 439.7C1103.9 432.7 1106.8 423.2 1109.3 414.3C1111.9 405.4 1114.4 395.6 1117 386.3C1119.5 377 1122 367.6 1124.6 358.3C1127.1 349 1129.7 339.7 1132.2 330.4C1134.8 321 1137.3 311.1 1139.8 302.4C1142.4 293.7 1144.9 285.4 1147.5 278.2C1150 271 1152.6 265.1 1155.1 259.2C1157.6 253.2 1160.2 247.5 1162.7 242.6C1165.3 237.8 1167.8 233.5 1170.4 229.9C1172.9 226.3 1175.4 223.4 1178 221C1180.5 218.7 1183.1 217.2 1185.6 215.9C1188.2 214.7 1190.7 213.9 1193.2 213.6C1195.8 213.4 1198.3 213.6 1200.9 214.2C1203.4 214.8 1205.9 215.9 1208.5 217.2C1211 218.6 1213.6 220.4 1216.1 222.3C1218.7 224.2 1221.2 226.4 1223.7 228.6C1226.3 230.9 1228.8 233.2 1231.4 235.8C1233.9 238.3 1236.7 241.1 1239 243.9C1241.3 246.7 1243.5 249.4 1245.4 252.8C1247.3 256.2 1249 260.2 1250.4 264.2C1251.9 268.3 1253 271.5 1254.3 277C1255.5 282.5 1256.8 289.2 1258.1 297.3C1259.3 305.4 1260.6 315.1 1261.9 325.3C1263.2 335.4 1264.4 347.3 1265.7 358.3C1267 369.3 1268.2 381.2 1269.5 391.4C1270.8 401.5 1272.1 411.3 1273.3 419.3C1274.6 427.4 1275.9 434.2 1277.1 439.7C1278.4 445.2 1279.5 448.8 1281 452.4C1282.4 456 1284.1 459 1286 461.3C1287.9 463.6 1289.9 465.2 1292.4 466.4C1294.9 467.6 1297.9 468.1 1301.3 468.4C1304.7 468.7 1307.9 468.5 1312.7 468.2C1317.6 467.8 1323.3 467.1 1330.5 466.4C1337.7 465.7 1347.5 464.6 1356 463.8C1364.4 463.1 1372.9 462.4 1381.4 461.8C1389.9 461.3 1398.3 460.9 1406.8 460.5C1415.3 460.2 1424.6 459.9 1432.2 459.5C1439.9 459.1 1445.8 458.7 1452.6 458C1459.4 457.3 1469.5 455.9 1472.9 455.4" fill="none" stroke="#8b0000" stroke-width="2.3" stroke-linejoin="round" stroke-linecap="butt"/>
<path d="M1096.1 316.4C1098.3 316.8 1105 318.1 1109.3 318.9C1113.7 319.7 1118.2 320.4 1122 320.9C1125.9 321.5 1129.7 322.1 1132.2 322.2C1134.8 322.3 1136.5 321.6 1137.3 321.5C1138.1 320 1140.3 317 1142.4 312.6C1144.5 308.1 1147.5 300.7 1150 294.8C1152.6 288.8 1155.1 282.5 1157.6 277C1160.2 271.5 1162.7 266.4 1165.3 261.7C1167.8 257 1170.4 252.6 1172.9 249C1175.4 245.4 1178 242.6 1180.5 240.1C1183.1 237.5 1185.6 235.4 1188.2 233.7C1190.7 232 1193.2 230.9 1195.8 229.9C1198.3 229 1200.9 228.4 1203.4 228.1C1205.9 227.8 1208.5 227.9 1211 228.1C1213.6 228.4 1216.1 228.9 1218.7 229.7C1221.2 230.4 1223.7 231.4 1226.3 232.5C1228.8 233.6 1231.4 234.7 1233.9 236.3C1236.5 237.8 1239 239.8 1241.5 241.9C1244.1 244 1247.1 246.3 1249.2 249C1251.3 251.7 1252.8 254.5 1254.3 257.9C1255.7 261.3 1256.8 264.5 1258.1 269.3C1259.3 274.2 1260.6 280.3 1261.9 287.1C1263.2 293.9 1264.6 303.2 1265.7 310C1266.8 316.8 1267.7 323.7 1268.2 327.8C1268.8 332 1268.9 333.7 1269 334.9C1269.3 332 1269.9 323.1 1270.8 317.6C1271.7 312.2 1273.1 306.8 1274.6 302.4C1276.1 297.9 1277.8 293.7 1279.7 290.9C1281.6 288.2 1283.9 287 1286 285.9C1288.2 284.7 1290.1 284.4 1292.4 284.1C1294.7 283.8 1297.1 283.8 1300 284.1C1303 284.4 1305.1 284.8 1310.2 285.9C1315.3 286.9 1322.9 288.6 1330.5 290.2C1338.2 291.8 1347.5 293.8 1356 295.5C1364.4 297.3 1372.9 299 1381.4 300.6C1389.9 302.3 1398.3 303.9 1406.8 305.4C1415.3 307 1423.8 308.6 1432.2 310C1440.7 311.5 1450.9 313 1457.7 314.1C1464.4 315.2 1470.4 316.2 1472.9 316.6" fill="none" stroke="#ffa500" stroke-width="2.1" stroke-linejoin="round" stroke-linecap="butt"/>
<path d="M1096.1 448.6C1097.5 448.7 1101.8 448.7 1104.2 449.1C1106.7 449.5 1108.5 449.9 1110.6 451.1C1112.7 452.3 1114.6 454.4 1117 456.2C1119.3 458 1122 460.6 1124.6 462.1C1127.1 463.5 1129.7 464.5 1132.2 465.1C1134.8 465.7 1136.5 466 1139.8 465.9C1143.2 465.8 1147 465.3 1152.6 464.6C1158.1 463.9 1166.1 462.5 1172.9 461.6C1179.7 460.6 1186.5 459.7 1193.2 459C1200 458.3 1206.8 457.7 1213.6 457.2C1220.4 456.8 1227.1 456.5 1233.9 456.2C1240.7 455.9 1247.5 455.6 1254.3 455.4C1261 455.3 1269.1 455.2 1274.6 455.2C1280.1 455.2 1283.1 454.9 1287.3 455.2C1291.6 455.4 1294.9 456.1 1300 456.7C1305.1 457.4 1310.6 458.4 1317.8 459C1325 459.6 1334.8 460.2 1343.2 460.5C1351.7 460.8 1360.2 460.8 1368.7 460.8C1377.2 460.7 1385.6 460.5 1394.1 460.3C1402.6 460.1 1413.6 459.8 1419.5 459.5C1425.5 459.3 1426.7 459.5 1429.7 458.8C1432.7 458 1434.4 456.3 1437.3 454.9C1440.3 453.6 1444.1 451.7 1447.5 450.6C1450.9 449.5 1454.5 448.8 1457.7 448.3C1460.8 447.9 1464 447.9 1466.6 448.1C1469.1 448.2 1471.9 448.9 1472.9 449.1" fill="none" stroke="#cd853f" stroke-width="1.8" stroke-linejoin="round" stroke-linecap="butt"/>
<rect x="1078.1" y="200.2" width="413.1" height="280.7" fill="none" stroke="#8e8e8e" stroke-width="1.6"/>
<path d="M1096.6 481.7v3.6M1171.9 481.7v3.6M1247.1 481.7v3.6M1322.4 481.7v3.6M1397.6 481.7v3.6M1472.9 481.7v3.6M1077.3 453.7h-3.6M1077.3 416.4h-3.6M1077.3 379.2h-3.6M1077.3 341.9h-3.6M1077.3 304.7h-3.6M1077.3 267.4h-3.6M1077.3 230.2h-3.6" stroke="#222" stroke-width="1.1" fill="none"/>
<text x="1096.6" y="497.4" font-family="DejaVu Sans, Liberation Sans, sans-serif" font-size="10" font-weight="bold" text-anchor="middle">0.0</text>
<text x="1171.9" y="497.4" font-family="DejaVu Sans, Liberation Sans, sans-serif" font-size="10" font-weight="bold" text-anchor="middle">0.2</text>
<text x="1247.1" y="497.4" font-family="DejaVu Sans, Liberation Sans, sans-serif" font-size="10" font-weight="bold" text-anchor="middle">0.4</text>
<text x="1322.4" y="497.4" font-family="DejaVu Sans, Liberation Sans, sans-serif" font-size="10" font-weight="bold" text-anchor="middle">0.6</text>
<text x="1397.6" y="497.4" font-family="DejaVu Sans, Liberation Sans, sans-serif" font-size="10" font-weight="bold" text-anchor="middle">0.8</text>
<text x="1472.9" y="497.4" font-family="DejaVu Sans, Liberation Sans, sans-serif" font-size="10" font-weight="bold" text-anchor="middle">1.0</text>
<text x="1068.8" y="458" font-family="DejaVu Sans, Liberation Sans, sans-serif" font-size="10" font-weight="bold" text-anchor="end">20</text>
<text x="1068.8" y="420.8" font-family="DejaVu Sans, Liberation Sans, sans-serif" font-size="10" font-weight="bold" text-anchor="end">40</text>
<text x="1068.8" y="383.5" font-family="DejaVu Sans, Liberation Sans, sans-serif" font-size="10" font-weight="bold" text-anchor="end">60</text>
<text x="1068.8" y="346.2" font-family="DejaVu Sans, Liberation Sans, sans-serif" font-size="10" font-weight="bold" text-anchor="end">80</text>
<text x="1068.8" y="309" font-family="DejaVu Sans, Liberation Sans, sans-serif" font-size="10" font-weight="bold" text-anchor="end">100</text>
<text x="1068.8" y="271.8" font-family="DejaVu Sans, Liberation Sans, sans-serif" font-size="10" font-weight="bold" text-anchor="end">120</text>
<text x="1068.8" y="234.5" font-family="DejaVu Sans, Liberation Sans, sans-serif" font-size="10" font-weight="bold" text-anchor="end">140</text>
<text x="1284" y="194.3" font-family="DejaVu Sans, Liberation Sans, sans-serif" font-size="20.7" font-weight="bold" text-anchor="middle" textLength="105.4" lengthAdjust="spacingAndGlyphs">Pressure</text>
<text x="1284.6" y="516" font-family="DejaVu Sans, Liberation Sans, sans-serif" font-size="16.6" font-weight="bold" text-anchor="middle" textLength="77.4" lengthAdjust="spacingAndGlyphs">Time (s)</text>
<text x="1039.9" y="342.5" font-family="DejaVu Sans, Liberation Sans, sans-serif" font-size="16.6" font-weight="bold" text-anchor="middle" textLength="166.9" lengthAdjust="spacingAndGlyphs" transform="rotate(-90 1039.9 342.5)">Pressure (mmHg)</text>
<rect x="1367.9" y="206.3" width="118.2" height="50.3" rx="2" fill="#fff" fill-opacity="0.8" stroke="#dedede" stroke-width="1"/>
<path d="M1371.7 214.9H1394.6" stroke="#8b0000" stroke-width="2.8"/>
<text x="1401.7" y="218.5" font-family="DejaVu Sans, Liberation Sans, sans-serif" font-size="10.5" font-weight="bold">Left Ventricle</text>
<path d="M1371.7 230.9H1394.6" stroke="#ffa500" stroke-width="2.2"/>
<text x="1401.7" y="234.5" font-family="DejaVu Sans, Liberation Sans, sans-serif" font-size="10.5" font-weight="bold">Aorta</text>
<path d="M1371.7 247H1394.6" stroke="#cd853f" stroke-width="1.7"/>
<text x="1401.7" y="250.6" font-family="DejaVu Sans, Liberation Sans, sans-serif" font-size="10.5" font-weight="bold">Left Atrium</text>
</g>
<g>
<path d="M1584 462.6C1583.9 461.3 1583.5 457.9 1583.5 454.9C1583.4 452 1583.4 451.8 1583.5 445C1583.5 438.2 1583.5 424 1583.7 414.3C1583.9 404.5 1584.1 395.8 1584.5 386.5C1584.9 377.3 1585.5 366.7 1586.3 358.6C1587 350.4 1588 344.3 1589.1 337.7C1590.1 331.2 1591.1 325.3 1592.4 319.4C1593.6 313.6 1594.9 308.2 1596.7 302.6C1598.4 297 1600.8 290.5 1602.8 285.9C1604.7 281.2 1606.5 277.9 1608.4 274.7C1610.2 271.5 1611.7 269.2 1614 266.5C1616.2 263.9 1619.1 261 1621.9 258.7C1624.7 256.3 1627.6 254.4 1630.8 252.6C1633.9 250.7 1637.2 249.1 1640.7 247.5C1644.2 245.8 1647.7 244.2 1651.9 242.6C1656 241.1 1661 239.7 1665.6 238.3C1670.2 236.9 1674.9 235.5 1679.6 234.2C1684.2 233 1688.9 231.8 1693.6 230.7C1698.2 229.5 1702.9 228.5 1707.5 227.4C1712.2 226.3 1716.9 225.1 1721.5 224.1C1726.2 223 1730.9 221.9 1735.5 221C1740.2 220.1 1744.8 219.4 1749.5 218.7C1754.2 218.1 1758.8 217.5 1763.5 217C1768.1 216.4 1772.8 215.9 1777.5 215.4C1782.1 215 1786.8 214.5 1791.4 214.2C1796.1 213.8 1800.6 213.6 1805.2 213.4C1809.8 213.2 1814.5 213.2 1819.2 213.1C1823.8 213.1 1829.4 213.1 1833.1 213.1C1836.9 213.2 1837.4 213.3 1841.8 213.6C1846.2 214 1853.7 214.5 1859.6 215.4C1865.5 216.3 1871.9 217.5 1877.4 219C1882.9 220.4 1887.6 222 1892.6 224.1C1897.7 226.1 1903.2 228.5 1907.9 231.2C1912.6 233.9 1916.8 236.7 1920.6 240.1C1924.4 243.5 1927.8 247.5 1930.8 251.5C1933.7 255.6 1936.3 259.6 1938.4 264.2C1940.5 268.9 1942.1 274 1943.5 279.5C1944.9 285 1945.8 290.9 1946.5 297.3C1947.3 303.7 1947.6 310 1948.1 317.6C1948.5 325.3 1948.7 333.3 1949.1 343.1C1949.5 352.8 1950.1 365.1 1950.6 376.1C1951.1 387.1 1951.5 400.3 1951.9 409.2C1952.3 418.1 1952.7 424.4 1952.9 429.5C1953.1 434.6 1953.2 436.9 1952.9 439.7C1952.6 442.4 1952.1 444.1 1951.1 446C1950.2 447.9 1948.5 449.7 1947.3 451.1C1946.1 452.5 1945.1 453.7 1944 454.4C1942.9 455.2 1941.5 455.5 1941 455.7C1934.6 456 1917.6 456.8 1902.8 457.5C1888 458.1 1868.9 458.8 1852 459.5C1835 460.2 1818.1 460.8 1801.1 461.6C1784.2 462.3 1767.2 463.1 1750.3 463.8C1733.3 464.6 1714.2 465.4 1699.4 466.1C1684.6 466.8 1673.1 467.5 1661.3 467.9C1649.4 468.3 1637.5 468.6 1628.2 468.7C1618.9 468.7 1610.8 468.5 1605.3 468.2C1599.8 467.9 1598.1 467.4 1595.2 466.9C1592.2 466.3 1589.4 465.6 1587.5 464.9C1585.6 464.1 1584.4 462.9 1583.7 462.6" fill="none" stroke="#8b0000" stroke-width="1.8" stroke-linejoin="round" stroke-linecap="butt"/>
<rect x="1564.6" y="200.2" width="407.6" height="280.7" fill="none" stroke="#8e8e8e" stroke-width="1.6"/>
<path d="M1595.2 481.7v3.6M1669.5 481.7v3.6M1743.8 481.7v3.6M1818.1 481.7v3.6M1892.4 481.7v3.6M1966.7 481.7v3.6M1563.8 453.7h-3.6M1563.8 416.4h-3.6M1563.8 379.2h-3.6M1563.8 341.9h-3.6M1563.8 304.7h-3.6M1563.8 267.4h-3.6M1563.8 230.2h-3.6" stroke="#222" stroke-width="1.1" fill="none"/>
<text x="1595.2" y="497.4" font-family="DejaVu Sans, Liberation Sans, sans-serif" font-size="10" font-weight="bold" text-anchor="middle">100</text>
<text x="1669.5" y="497.4" font-family="DejaVu Sans, Liberation Sans, sans-serif" font-size="10" font-weight="bold" text-anchor="middle">120</text>
<text x="1743.8" y="497.4" font-family="DejaVu Sans, Liberation Sans, sans-serif" font-size="10" font-weight="bold" text-anchor="middle">140</text>
<text x="1818.1" y="497.4" font-family="DejaVu Sans, Liberation Sans, sans-serif" font-size="10" font-weight="bold" text-anchor="middle">160</text>
<text x="1892.4" y="497.4" font-family="DejaVu Sans, Liberation Sans, sans-serif" font-size="10" font-weight="bold" text-anchor="middle">180</text>
<text x="1966.7" y="497.4" font-family="DejaVu Sans, Liberation Sans, sans-serif" font-size="10" font-weight="bold" text-anchor="middle">200</text>
<text x="1555.3" y="458" font-family="DejaVu Sans, Liberation Sans, sans-serif" font-size="10" font-weight="bold" text-anchor="end">20</text>
<text x="1555.3" y="420.8" font-family="DejaVu Sans, Liberation Sans, sans-serif" font-size="10" font-weight="bold" text-anchor="end">40</text>
<text x="1555.3" y="383.5" font-family="DejaVu Sans, Liberation Sans, sans-serif" font-size="10" font-weight="bold" text-anchor="end">60</text>
<text x="1555.3" y="346.2" font-family="DejaVu Sans, Liberation Sans, sans-serif" font-size="10" font-weight="bold" text-anchor="end">80</text>
<text x="1555.3" y="309" font-family="DejaVu Sans, Liberation Sans, sans-serif" font-size="10" font-weight="bold" text-anchor="end">100</text>
<text x="1555.3" y="271.8" font-family="DejaVu Sans, Liberation Sans, sans-serif" font-size="10" font-weight="bold" text-anchor="end">120</text>
<text x="1555.3" y="234.5" font-family="DejaVu Sans, Liberation Sans, sans-serif" font-size="10" font-weight="bold" text-anchor="end">140</text>
<text x="1767.3" y="194.3" font-family="DejaVu Sans, Liberation Sans, sans-serif" font-size="20.7" font-weight="bold" text-anchor="middle" textLength="283" lengthAdjust="spacingAndGlyphs">Left Ventricle Workload</text>
<text x="1767.7" y="516" font-family="DejaVu Sans, Liberation Sans, sans-serif" font-size="16.6" font-weight="bold" text-anchor="middle" textLength="149.7" lengthAdjust="spacingAndGlyphs">LV Volume (mL)</text>
<text x="1526" y="342.1" font-family="DejaVu Sans, Liberation Sans, sans-serif" font-size="16.6" font-weight="bold" text-anchor="middle" textLength="194.1" lengthAdjust="spacingAndGlyphs" transform="rotate(-90 1526 342.1)">LV Pressure (mmHg)</text>
<text x="1773.2" y="322.7" font-family="DejaVu Sans, Liberation Sans, sans-serif" font-size="26.8" font-weight="bold" text-anchor="middle" textLength="170.7" lengthAdjust="spacingAndGlyphs">Workload =</text>
<text x="1777" y="359.6" font-family="DejaVu Sans, Liberation Sans, sans-serif" font-size="26.8" font-weight="bold" text-anchor="middle" textLength="90.1" lengthAdjust="spacingAndGlyphs">1.60 J</text>
</g>
<g>
<path d="M1096.2 667.1C1096.5 666.3 1097.3 663.4 1098.3 662.2C1099.3 661 1100 660.1 1102.4 659.8C1104.8 659.5 1108.8 660.1 1112.9 660.5C1117 660.9 1122.7 661.5 1126.9 661.9C1131.1 662.3 1135 662.4 1138 662.9C1141 663.4 1142.7 663.9 1145 664.7C1147.3 665.5 1149.7 666.3 1152 667.8C1154.3 669.2 1156.7 671.3 1159 673.4C1161.3 675.5 1163.7 677.7 1166 680.4C1168.3 683.1 1170.6 685.9 1172.9 689.4C1175.2 692.9 1177.6 697 1179.9 701.3C1182.2 705.6 1184.6 710.4 1186.9 715.3C1189.2 720.2 1191.6 725.5 1193.9 730.6C1196.2 735.7 1198.7 740.9 1200.9 746C1203.2 751.1 1205.2 755.8 1207.4 761C1209.7 766.2 1212.1 772.4 1214.4 777.5C1216.7 782.6 1219 787 1221.3 791.8C1223.6 796.6 1226 801.6 1228.3 806.4C1230.6 811.1 1233 816 1235.3 820.3C1237.6 824.5 1239.6 828.1 1241.9 831.9C1244.2 835.7 1246.6 839.6 1248.9 843.1C1251.2 846.6 1253.7 850.2 1255.8 852.8C1257.9 855.3 1259.5 856.9 1261.4 858.4C1263.3 859.9 1265.1 861.2 1267 861.9C1268.9 862.6 1269.8 862.4 1272.6 862.6C1275.4 862.8 1281.3 863.1 1283.7 863C1286.1 862.9 1286 862.8 1287.2 861.9C1288.4 861 1289.2 859.9 1290.7 857.7C1292.2 855.5 1294.2 852.1 1296.3 848.6C1298.4 845.1 1300.7 841.2 1303.3 836.8C1305.9 832.4 1308.9 826.9 1311.7 822.1C1314.5 817.3 1317.2 812.5 1320 808.2C1322.8 803.9 1325.6 800 1328.4 796.3C1331.2 792.6 1334 789.2 1336.8 785.8C1339.6 782.4 1342.4 779.1 1345.2 776.1C1348 773.1 1350.3 770.8 1353.5 767.7C1356.7 764.6 1361.4 760.2 1364.5 757.3C1367.6 754.4 1369.6 752.5 1372.3 750.3C1375 748.1 1377.7 746.2 1380.4 744.3C1383.1 742.4 1385.8 740.7 1388.5 739C1391.2 737.3 1393.9 735.8 1396.6 734.2C1399.3 732.7 1402 731.1 1404.7 729.7C1407.4 728.3 1410.1 727 1412.8 725.7C1415.5 724.4 1418.1 723.2 1420.8 722C1423.5 720.8 1426.6 719.5 1428.9 718.4C1431.2 717.3 1433 716.5 1434.6 715.6C1436.2 714.7 1437.4 713.8 1438.6 712.8C1439.8 711.8 1440.8 710.7 1441.9 709.5C1443 708.3 1444 707 1445.1 705.5C1446.2 704 1447.2 702.2 1448.3 700.6C1449.4 699 1450.5 697.4 1451.6 695.8C1452.7 694.2 1453.7 692.5 1454.8 690.9C1455.9 689.3 1456.9 687.7 1458 686.1C1459.1 684.5 1460.2 682.8 1461.3 681.2C1462.4 679.6 1463.4 678 1464.5 676.4C1465.6 674.8 1466.6 673.3 1467.7 671.9C1468.8 670.5 1470.1 668.9 1471 667.9C1471.9 666.9 1472.7 666.2 1473 665.9" fill="none" stroke="#cd853f" stroke-width="1.85" stroke-linejoin="round" stroke-linecap="butt"/>
<path d="M1096.2 725C1096.4 725.9 1096.7 728.3 1097.6 730.6C1098.5 732.9 1100.2 736.3 1101.8 739C1103.4 741.7 1105.2 744 1107.3 746.7C1109.4 749.4 1112 752.6 1114.3 755C1116.6 757.4 1119.2 759.8 1121.3 761.3C1123.4 762.8 1125 763.4 1126.9 763.7C1128.8 764 1130.7 763.9 1132.5 763.1C1134.3 762.4 1135.9 761.2 1138 759.2C1140.1 757.2 1142.7 753.9 1145 750.8C1147.3 747.7 1149.7 744.2 1152 740.4C1154.3 736.6 1156.7 732 1159 727.8C1161.3 723.6 1163.7 719.7 1166 715.3C1168.3 710.9 1170.6 706 1172.9 701.3C1175.2 696.6 1177.6 691.7 1179.9 687.3C1182.2 682.9 1184.6 678.8 1186.9 674.8C1189.2 670.8 1191.6 667.1 1193.9 663.6C1196.2 660.1 1198.6 656.8 1200.9 653.8C1203.2 650.8 1205.5 648.2 1207.8 645.5C1210.1 642.8 1212.5 640.1 1214.8 637.8C1217.1 635.5 1219.2 633.6 1221.8 631.5C1224.4 629.4 1227.4 627.1 1230.2 625.2C1233 623.3 1235.2 622 1238.5 620.3C1241.8 618.5 1246 616.2 1249.7 614.7C1253.4 613.2 1257.2 612.3 1260.9 611.3C1264.6 610.3 1268.5 609.5 1272 608.9C1275.5 608.3 1279.5 607.9 1281.8 607.8C1284.1 607.7 1284.7 607.5 1286 608.1C1287.3 608.7 1288.1 609.5 1289.5 611.3C1290.9 613.1 1292.2 615.4 1294.4 618.9C1296.6 622.4 1300 628 1302.8 632.2C1305.6 636.4 1308.3 640.5 1311.1 644.1C1313.9 647.7 1316.7 650.8 1319.5 653.8C1322.3 656.8 1325.1 659.8 1327.9 662.2C1330.7 664.7 1333.5 666.8 1336.3 668.5C1339.1 670.2 1341.8 671.5 1344.6 672.7C1347.4 673.9 1349.7 674.8 1353 675.5C1356.3 676.2 1361.1 676.7 1364.3 676.8C1367.5 676.9 1369.6 676.5 1372.3 676C1375 675.5 1377.7 674.6 1380.4 673.9C1383.1 673.2 1385.8 672.6 1388.5 671.9C1391.2 671.2 1393.9 670.3 1396.6 669.5C1399.3 668.7 1402 668 1404.7 667.3C1407.4 666.6 1410.1 665.9 1412.8 665.2C1415.5 664.5 1418.4 663.9 1420.8 663.3C1423.2 662.7 1425.4 662.1 1427.3 661.7C1429.2 661.3 1430.7 661.1 1432.2 661C1433.7 660.9 1435 660.9 1436.2 661.2C1437.4 661.5 1438.3 662 1439.4 662.6C1440.5 663.2 1441.6 664.1 1442.7 665.1C1443.8 666.1 1444.8 667.4 1445.9 668.7C1447 670 1448 671.4 1449.1 673.1C1450.2 674.8 1451.3 676.8 1452.4 678.8C1453.5 680.8 1454.5 683 1455.6 685.3C1456.7 687.6 1457.7 690.1 1458.8 692.5C1459.9 694.9 1461 697.2 1462.1 699.8C1463.2 702.4 1464.2 705.2 1465.3 707.9C1466.4 710.6 1467.5 713.4 1468.5 716C1469.5 718.6 1470.7 721.5 1471.4 723.3C1472.2 725 1472.7 726 1473 726.5" fill="none" stroke="#8b0000" stroke-width="2.05" stroke-linejoin="round" stroke-linecap="butt"/>
<rect x="1078.1" y="595.7" width="413.1" height="280.2" fill="none" stroke="#8e8e8e" stroke-width="1.6"/>
<path d="M1096.6 876.7v3.6M1171.9 876.7v3.6M1247.1 876.7v3.6M1322.4 876.7v3.6M1397.6 876.7v3.6M1472.9 876.7v3.6M1077.3 857.1h-3.6M1077.3 816.4h-3.6M1077.3 775.7h-3.6M1077.3 735h-3.6M1077.3 694.4h-3.6M1077.3 653.7h-3.6M1077.3 613h-3.6" stroke="#222" stroke-width="1.1" fill="none"/>
<text x="1096.6" y="892.4" font-family="DejaVu Sans, Liberation Sans, sans-serif" font-size="10" font-weight="bold" text-anchor="middle">0.0</text>
<text x="1171.9" y="892.4" font-family="DejaVu Sans, Liberation Sans, sans-serif" font-size="10" font-weight="bold" text-anchor="middle">0.2</text>
<text x="1247.1" y="892.4" font-family="DejaVu Sans, Liberation Sans, sans-serif" font-size="10" font-weight="bold" text-anchor="middle">0.4</text>
<text x="1322.4" y="892.4" font-family="DejaVu Sans, Liberation Sans, sans-serif" font-size="10" font-weight="bold" text-anchor="middle">0.6</text>
<text x="1397.6" y="892.4" font-family="DejaVu Sans, Liberation Sans, sans-serif" font-size="10" font-weight="bold" text-anchor="middle">0.8</text>
<text x="1472.9" y="892.4" font-family="DejaVu Sans, Liberation Sans, sans-serif" font-size="10" font-weight="bold" text-anchor="middle">1.0</text>
<text x="1068.8" y="861.4" font-family="DejaVu Sans, Liberation Sans, sans-serif" font-size="10" font-weight="bold" text-anchor="end">100</text>
<text x="1068.8" y="820.7" font-family="DejaVu Sans, Liberation Sans, sans-serif" font-size="10" font-weight="bold" text-anchor="end">120</text>
<text x="1068.8" y="780" font-family="DejaVu Sans, Liberation Sans, sans-serif" font-size="10" font-weight="bold" text-anchor="end">140</text>
<text x="1068.8" y="739.3" font-family="DejaVu Sans, Liberation Sans, sans-serif" font-size="10" font-weight="bold" text-anchor="end">160</text>
<text x="1068.8" y="698.7" font-family="DejaVu Sans, Liberation Sans, sans-serif" font-size="10" font-weight="bold" text-anchor="end">180</text>
<text x="1068.8" y="658" font-family="DejaVu Sans, Liberation Sans, sans-serif" font-size="10" font-weight="bold" text-anchor="end">200</text>
<text x="1068.8" y="617.3" font-family="DejaVu Sans, Liberation Sans, sans-serif" font-size="10" font-weight="bold" text-anchor="end">220</text>
<text x="1284.9" y="589.4" font-family="DejaVu Sans, Liberation Sans, sans-serif" font-size="20.7" font-weight="bold" text-anchor="middle" textLength="87.1" lengthAdjust="spacingAndGlyphs">Volume</text>
<text x="1284.6" y="911" font-family="DejaVu Sans, Liberation Sans, sans-serif" font-size="16.6" font-weight="bold" text-anchor="middle" textLength="77.4" lengthAdjust="spacingAndGlyphs">Time (s)</text>
<text x="1039.9" y="736.5" font-family="DejaVu Sans, Liberation Sans, sans-serif" font-size="16.6" font-weight="bold" text-anchor="middle" textLength="120.2" lengthAdjust="spacingAndGlyphs" transform="rotate(-90 1039.9 736.5)">Volume (mL)</text>
<rect x="1367.9" y="601.5" width="118.2" height="33.6" rx="2" fill="#fff" fill-opacity="0.8" stroke="#dedede" stroke-width="1"/>
<path d="M1371.7 609.7H1394.6" stroke="#cd853f" stroke-width="2.1"/>
<text x="1401.7" y="613.3" font-family="DejaVu Sans, Liberation Sans, sans-serif" font-size="10.5" font-weight="bold">Left Ventricle</text>
<path d="M1371.7 625.4H1394.6" stroke="#8b0000" stroke-width="2.0"/>
<text x="1401.7" y="629" font-family="DejaVu Sans, Liberation Sans, sans-serif" font-size="10.5" font-weight="bold">Left Atrium</text>
</g>
<g>
<path d="M1582.4 863.4L1623.1 863.4C1623.8 862 1625.5 859.4 1626.9 855C1628.4 850.7 1630.3 844 1632 837.2C1633.7 830.4 1635.4 822.4 1637.1 814.3C1638.8 806.3 1640.5 797.8 1642.2 788.9C1643.9 780 1645.6 770.3 1647.3 760.9C1649 751.6 1650.7 741.9 1652.4 733C1654.1 724.1 1655.8 716 1657.5 707.6C1659.1 699.1 1660.8 689.8 1662.5 682.1C1664.2 674.5 1665.9 668.1 1667.6 661.8C1669.3 655.4 1671 649.3 1672.7 644C1674.4 638.7 1676.1 634 1677.8 630C1679.5 626 1681.2 622.7 1682.9 619.8C1684.6 617 1686.3 614.8 1688 613C1689.7 611.2 1691.4 609.9 1693.1 609.2C1694.7 608.4 1696.4 608.4 1698.1 608.6C1699.8 608.9 1701.5 609.5 1703.2 610.9C1704.9 612.4 1706.4 614.3 1708.3 617.3C1710.2 620.3 1712.5 624.5 1714.7 628.7C1716.8 633 1718.9 637.6 1721 642.7C1723.1 647.8 1725.3 653.1 1727.4 659.2C1729.5 665.4 1731.8 672.8 1733.7 679.6C1735.6 686.4 1737.3 692.7 1738.8 699.9C1740.3 707.1 1741.4 713.9 1742.6 722.8C1743.9 731.7 1745.2 742.3 1746.4 753.3C1747.7 764.3 1749.2 777.9 1750.3 788.9C1751.3 799.9 1752 810.1 1752.8 819.4C1753.6 828.8 1754.3 837.5 1754.8 844.9C1755.4 852.2 1755.9 860.3 1756.1 863.4L1960 863.4" fill="none" stroke="#cd853f" stroke-width="1.8" stroke-linejoin="round" stroke-linecap="butt"/>
<path d="M1583 698.7C1583.2 701 1584 706.1 1584.5 712.6C1584.9 719.2 1585.3 726.2 1585.8 738.1C1586.2 749.9 1586.6 769.8 1587 783.8C1587.4 797.8 1587.9 810.1 1588.3 822C1588.7 833.8 1589.2 848.1 1589.6 855C1589.9 861.9 1590.4 862 1590.6 863.4L1769.3 863.4C1769.5 862.4 1770.2 862.4 1770.6 857.6C1771 852.8 1771.5 846 1771.9 834.7C1772.3 823.4 1772.5 802.9 1773 789.6C1773.5 776.3 1774.4 766.3 1775 754.7C1775.6 743.1 1776 729.8 1776.5 719.8C1777 709.8 1777.4 702.3 1778 694.8C1778.6 687.3 1779.3 680.2 1780 674.9C1780.7 669.6 1781.2 665.8 1782 662.9C1782.8 660 1783.6 658.5 1784.5 657.4C1785.4 656.2 1786.3 655.9 1787.4 656C1788.5 656.1 1789.7 656.8 1790.9 657.9C1792.2 659 1793.4 660.6 1794.9 662.9C1796.4 665.2 1798.2 668.9 1799.9 671.9C1801.6 674.9 1803.2 677.8 1804.9 680.9C1806.6 684 1808.2 687.1 1809.9 690.3C1811.6 693.4 1813.2 696.7 1814.9 699.8C1816.6 702.9 1818.2 705.8 1819.9 708.8C1821.6 711.8 1823.2 715 1824.8 717.8C1826.4 720.6 1828.1 723.1 1829.8 725.7C1831.5 728.4 1833.1 731 1834.8 733.7C1836.5 736.4 1838.1 739.2 1839.8 741.7C1841.5 744.2 1843.1 746.4 1844.8 748.7C1846.5 751 1848.1 753.6 1849.8 755.7C1851.5 757.9 1853 759.7 1854.7 761.6C1856.4 763.5 1858 765.4 1859.7 767.1C1861.4 768.9 1863 770.4 1864.7 772.1C1866.4 773.8 1868 775.5 1869.7 777.1C1871.4 778.7 1873 780.2 1874.7 781.6C1876.4 783 1878.4 784.5 1879.7 785.6C1881 786.7 1880.6 786.2 1882.7 788C1884.8 789.8 1889 793.7 1892.3 796.5C1895.6 799.3 1899.9 802.5 1902.8 804.8C1905.7 807 1907.7 808.5 1909.8 810C1911.9 811.5 1914.5 813 1915.4 813.6C1915.9 812.4 1917.4 809.3 1918.2 806.3C1919 803.3 1919.7 798.6 1920.2 795.8C1920.7 793 1920.5 794 1921 789.6C1921.5 785.2 1922.7 776.2 1923.5 769.6C1924.3 763 1925.2 756.4 1926 749.7C1926.8 743.1 1927.6 736 1928.5 729.7C1929.4 723.4 1930.5 716.8 1931.5 711.8C1932.5 706.8 1933.5 703.1 1934.5 699.8C1935.5 696.5 1936.5 693.9 1937.5 691.8C1938.5 689.7 1939.5 688.5 1940.5 687.4C1941.5 686.3 1942.5 685.8 1943.5 685.4C1944.5 685 1945.5 684.8 1946.5 684.9C1947.5 685 1948.5 685.2 1949.5 685.9C1950.5 686.6 1951.4 687.7 1952.5 688.9C1953.6 690.1 1954.7 691.6 1955.9 693.3C1957.1 695 1959.2 698.3 1959.9 699.3" fill="none" stroke="#8b0000" stroke-width="2.0" stroke-linejoin="round" stroke-linecap="butt"/>
<rect x="1564.6" y="595.7" width="414.5" height="280.2" fill="none" stroke="#8e8e8e" stroke-width="1.6"/>
<path d="M1584.2 876.7v3.6M1659.2 876.7v3.6M1734.2 876.7v3.6M1809.3 876.7v3.6M1884.3 876.7v3.6M1959.3 876.7v3.6M1563.8 863.4h-3.6M1563.8 808.2h-3.6M1563.8 753h-3.6M1563.8 697.9h-3.6M1563.8 642.7h-3.6" stroke="#222" stroke-width="1.1" fill="none"/>
<text x="1584.2" y="892.4" font-family="DejaVu Sans, Liberation Sans, sans-serif" font-size="10" font-weight="bold" text-anchor="middle">0.0</text>
<text x="1659.2" y="892.4" font-family="DejaVu Sans, Liberation Sans, sans-serif" font-size="10" font-weight="bold" text-anchor="middle">0.2</text>
<text x="1734.2" y="892.4" font-family="DejaVu Sans, Liberation Sans, sans-serif" font-size="10" font-weight="bold" text-anchor="middle">0.4</text>
<text x="1809.3" y="892.4" font-family="DejaVu Sans, Liberation Sans, sans-serif" font-size="10" font-weight="bold" text-anchor="middle">0.6</text>
<text x="1884.3" y="892.4" font-family="DejaVu Sans, Liberation Sans, sans-serif" font-size="10" font-weight="bold" text-anchor="middle">0.8</text>
<text x="1959.3" y="892.4" font-family="DejaVu Sans, Liberation Sans, sans-serif" font-size="10" font-weight="bold" text-anchor="middle">1.0</text>
<text x="1555.3" y="867.7" font-family="DejaVu Sans, Liberation Sans, sans-serif" font-size="10" font-weight="bold" text-anchor="end">0</text>
<text x="1555.3" y="812.5" font-family="DejaVu Sans, Liberation Sans, sans-serif" font-size="10" font-weight="bold" text-anchor="end">100</text>
<text x="1555.3" y="757.3" font-family="DejaVu Sans, Liberation Sans, sans-serif" font-size="10" font-weight="bold" text-anchor="end">200</text>
<text x="1555.3" y="702.2" font-family="DejaVu Sans, Liberation Sans, sans-serif" font-size="10" font-weight="bold" text-anchor="end">300</text>
<text x="1555.3" y="647" font-family="DejaVu Sans, Liberation Sans, sans-serif" font-size="10" font-weight="bold" text-anchor="end">400</text>
<text x="1770.9" y="589.4" font-family="DejaVu Sans, Liberation Sans, sans-serif" font-size="20.7" font-weight="bold" text-anchor="middle" textLength="73.1" lengthAdjust="spacingAndGlyphs">Inflow</text>
<text x="1771.8" y="911" font-family="DejaVu Sans, Liberation Sans, sans-serif" font-size="16.6" font-weight="bold" text-anchor="middle" textLength="77.6" lengthAdjust="spacingAndGlyphs">Time (s)</text>
<text x="1526" y="736.9" font-family="DejaVu Sans, Liberation Sans, sans-serif" font-size="16.6" font-weight="bold" text-anchor="middle" textLength="109.7" lengthAdjust="spacingAndGlyphs" transform="rotate(-90 1526 736.9)">Flow (mL/s)</text>
<rect x="1863.9" y="601.5" width="109.6" height="33.6" rx="2" fill="#fff" fill-opacity="0.8" stroke="#dedede" stroke-width="1"/>
<path d="M1867.2 609.7H1890.1" stroke="#cd853f" stroke-width="2.0"/>
<text x="1897.2" y="613.3" font-family="DejaVu Sans, Liberation Sans, sans-serif" font-size="10.5" font-weight="bold">Aortic Valve</text>
<path d="M1867.2 625.4H1890.1" stroke="#8b0000" stroke-width="2.0"/>
<text x="1897.2" y="629" font-family="DejaVu Sans, Liberation Sans, sans-serif" font-size="10.5" font-weight="bold">Mitral Valve</text>
</g>
<g>
<path d="M1120.8 1210.7C1122.7 1210.9 1127.8 1211.1 1132.2 1212C1136.7 1212.8 1142.4 1214.2 1147.5 1215.8C1152.6 1217.4 1157.6 1219.5 1162.7 1221.6C1167.8 1223.8 1172.9 1226.2 1178 1228.5C1183.1 1230.8 1188.8 1233.7 1193.2 1235.6C1197.7 1237.5 1202.1 1239.1 1204.7 1239.9C1207.2 1240.8 1207.9 1240.6 1208.5 1240.7C1209.8 1240.5 1212.7 1240.4 1216.1 1239.4C1219.5 1238.5 1224.6 1236.3 1228.8 1234.9C1233.1 1233.5 1237.3 1232.2 1241.5 1231C1245.8 1229.9 1250.4 1228.9 1254.3 1228C1258.1 1227.1 1260.2 1226.4 1264.4 1225.7C1268.7 1225 1272.9 1224.4 1279.7 1223.7C1286.5 1222.9 1296.6 1221.8 1305.1 1221.1C1313.6 1220.4 1322.1 1219.9 1330.5 1219.3C1339 1218.8 1347.5 1218.1 1356 1217.6C1364.4 1217 1372.9 1216.7 1381.4 1216C1389.9 1215.4 1399.2 1214.4 1406.8 1213.8C1414.4 1213.1 1421.2 1212.3 1427.2 1212C1433.1 1211.6 1438.2 1211.6 1442.4 1211.7C1446.6 1211.8 1449.4 1212.1 1452.6 1212.5C1455.8 1212.9 1458.5 1212.8 1461.5 1214C1464.4 1215.2 1467.2 1217.4 1470.4 1219.6C1473.6 1221.8 1477.4 1224.7 1480.5 1227.2C1483.7 1229.8 1487.1 1232.7 1489.4 1234.9C1491.8 1237 1493.9 1239.1 1494.8 1239.9C1495.4 1236.6 1497.3 1225.5 1498.5 1219.6C1499.8 1213.7 1500.9 1209.4 1502.4 1204.3C1503.8 1199.3 1505.5 1193.7 1507.4 1189.1C1509.3 1184.4 1511.5 1180 1513.8 1176.4C1516.1 1172.8 1518.7 1169.9 1521.4 1167.5C1524.2 1165 1527.1 1163.2 1530.3 1161.6C1533.5 1160.1 1536.9 1158.9 1540.5 1158.1C1544.1 1157.3 1548.1 1157 1551.9 1156.8C1555.8 1156.6 1559.6 1156.6 1563.4 1156.8C1567.2 1157 1570.8 1157.4 1574.8 1158.1C1578.8 1158.7 1582.9 1159.6 1587.5 1160.6C1592.2 1161.6 1597.7 1162.9 1602.8 1164.2C1607.9 1165.4 1613 1166.9 1618 1168.2C1623.1 1169.6 1628.2 1170.8 1633.3 1172.1C1638.4 1173.3 1642.6 1174.5 1648.6 1175.9C1654.5 1177.3 1662.1 1179 1668.9 1180.4C1675.7 1181.9 1682.5 1183.4 1689.2 1184.8C1696 1186.1 1702.8 1187.4 1709.6 1188.6C1716.4 1189.8 1723.1 1191 1729.9 1192.1C1736.7 1193.2 1743.5 1194.2 1750.3 1195.2C1757 1196.2 1763.8 1197.1 1770.6 1198C1777.4 1198.9 1784.2 1199.7 1790.9 1200.5C1797.7 1201.3 1804.5 1202.1 1811.3 1202.8C1818.1 1203.5 1824.8 1204.2 1831.6 1204.9C1838.4 1205.5 1845.2 1206.1 1852 1206.6C1858.7 1207.2 1865.5 1207.7 1872.3 1208.2C1879.1 1208.6 1885.9 1209 1892.6 1209.4C1899.4 1209.8 1905.7 1210.1 1913 1210.4C1920.3 1210.7 1932.7 1211.1 1936.6 1211.2" fill="none" stroke="#ffa500" stroke-width="1.8" stroke-linejoin="round" stroke-linecap="butt"/>
<path d="M1120.8 1191.1C1123.5 1191.5 1132 1192.6 1137.3 1193.7C1142.6 1194.7 1147.5 1196.1 1152.6 1197.5C1157.6 1198.8 1162.7 1200.4 1167.8 1201.8C1172.9 1203.2 1178.4 1204.9 1183.1 1206.1C1187.7 1207.4 1192.2 1208.5 1195.8 1209.4C1199.4 1210.4 1202.6 1211.5 1204.7 1212C1206.8 1212.4 1207.9 1212 1208.5 1212C1209.6 1211.3 1212.3 1210.1 1214.8 1208.2C1217.4 1206.3 1220.6 1203.3 1223.7 1200.5C1226.9 1197.8 1230.5 1194.4 1233.9 1191.6C1237.3 1188.9 1240.7 1186.5 1244.1 1184C1247.5 1181.5 1250.9 1179 1254.3 1176.9C1257.6 1174.8 1261 1172.9 1264.4 1171.3C1267.8 1169.7 1270.8 1168.5 1274.6 1167.5C1278.4 1166.4 1283.1 1165.5 1287.3 1164.9C1291.6 1164.3 1295.8 1164 1300 1163.9C1304.3 1163.8 1308.1 1163.9 1312.7 1164.2C1317.4 1164.5 1322.9 1164.9 1328 1165.7C1333.1 1166.5 1337.7 1167.6 1343.2 1168.7C1348.8 1169.9 1354.7 1171.2 1361 1172.6C1367.4 1173.9 1374.6 1175.5 1381.4 1176.9C1388.2 1178.3 1395.4 1179.6 1401.7 1181C1408.1 1182.3 1414 1183.5 1419.5 1184.8C1425 1186 1430.5 1187.2 1434.8 1188.3C1439 1189.5 1441.6 1190.2 1445 1191.6C1448.3 1193 1452.4 1195.1 1455.1 1196.7C1457.9 1198.3 1459.4 1199.2 1461.5 1201.3C1463.6 1203.4 1465.5 1206 1467.8 1209.4C1470.2 1212.9 1472.9 1217.5 1475.5 1222.1C1478 1226.8 1480.8 1232.3 1483.1 1237.4C1485.4 1242.5 1487.5 1247.7 1489.4 1252.7C1491.4 1257.7 1493.9 1264.9 1494.8 1267.4C1495.3 1264.5 1497 1256.4 1498 1250.1C1499.1 1243.8 1499.9 1236.1 1501.1 1229.8C1502.2 1223.4 1503.4 1217.7 1504.9 1212C1506.4 1206.3 1508.1 1200.5 1510 1195.4C1511.9 1190.4 1514 1185.5 1516.3 1181.5C1518.7 1177.4 1521.2 1174.2 1524 1171.3C1526.7 1168.4 1529.7 1166 1532.9 1164.2C1536 1162.3 1539.4 1161.1 1543 1160.1C1546.6 1159.1 1550.5 1158.5 1554.5 1158.1C1558.5 1157.6 1562.5 1157.5 1567.2 1157.3C1571.9 1157.1 1577.4 1157 1582.4 1157.1C1587.5 1157.1 1592.2 1157.2 1597.7 1157.6C1603.2 1157.9 1609.1 1158.4 1615.5 1159.1C1621.9 1159.8 1628.2 1160.6 1635.8 1161.6C1643.5 1162.6 1652.8 1164 1661.3 1165.2C1669.7 1166.4 1678.2 1167.6 1686.7 1168.7C1695.2 1169.9 1703.6 1171 1712.1 1172.1C1720.6 1173.1 1729.1 1174.1 1737.5 1175.1C1746 1176.1 1754.5 1177 1763 1177.9C1771.4 1178.8 1779.9 1179.8 1788.4 1180.7C1796.9 1181.6 1805.3 1182.4 1813.8 1183.2C1822.3 1184 1830.8 1184.8 1839.2 1185.5C1847.7 1186.2 1856.2 1186.9 1864.7 1187.6C1873.2 1188.2 1881.6 1188.8 1890.1 1189.3C1898.6 1189.9 1907.8 1190.3 1915.5 1190.6C1923.3 1191 1933.1 1191.2 1936.6 1191.4" fill="none" stroke="#cd853f" stroke-width="1.7" stroke-linejoin="round" stroke-linecap="butt"/>
<path d="M1120.8 1136.5C1122.3 1136.8 1126.9 1137.7 1129.7 1138.7C1132.4 1139.8 1134.3 1140.9 1137.3 1142.8C1140.3 1144.8 1144.1 1147.6 1147.5 1150.4C1150.9 1153.3 1154.3 1156.6 1157.6 1159.8C1161 1163.1 1164.4 1166.6 1167.8 1170C1171.2 1173.4 1174.6 1176.8 1178 1180.2C1181.4 1183.6 1184.8 1187.1 1188.2 1190.4C1191.5 1193.7 1195.6 1197.5 1198.3 1200C1201.1 1202.6 1203 1204.5 1204.7 1205.6C1206.4 1206.8 1207.9 1206.7 1208.5 1206.9C1209.3 1206.5 1211.5 1205.8 1213.6 1204.3C1215.7 1202.9 1218.2 1200.4 1221.2 1198C1224.2 1195.5 1228 1192.1 1231.4 1189.6C1234.8 1187.1 1237.7 1185.1 1241.5 1182.7C1245.4 1180.3 1250.4 1177.4 1254.3 1175.1C1258.1 1172.9 1260.2 1171.2 1264.4 1169.3C1268.7 1167.3 1274.6 1165.2 1279.7 1163.2C1284.8 1161.1 1289.9 1158.8 1294.9 1156.8C1300 1154.8 1304.3 1153.2 1310.2 1150.9C1316.1 1148.7 1323.8 1145.7 1330.5 1143.3C1337.3 1140.9 1344.1 1138.7 1350.9 1136.5C1357.7 1134.2 1364.4 1131.9 1371.2 1129.8C1378 1127.8 1385.6 1125.7 1391.6 1124.3C1397.5 1122.8 1401.7 1121.9 1406.8 1120.9C1411.9 1120 1417.4 1119.3 1422.1 1118.7C1426.7 1118.1 1431 1117.5 1434.8 1117.4C1438.6 1117.3 1441.6 1117.4 1445 1117.9C1448.3 1118.4 1452.4 1119.7 1455.1 1120.4C1457.8 1121.2 1458.9 1120.7 1461.2 1122.2C1463.5 1123.8 1466.4 1126.9 1468.9 1129.8C1471.3 1132.8 1473.4 1136 1475.7 1139.8C1478 1143.5 1480.5 1147.9 1482.8 1152.2C1485.2 1156.6 1487.7 1161.8 1489.7 1166C1491.7 1170.1 1493.9 1175.1 1494.8 1176.9C1495.2 1174.3 1496.4 1169.3 1497.3 1161.1C1498.1 1153 1498.8 1139.1 1499.8 1128.1C1500.9 1117 1502.1 1105.6 1503.6 1095C1505.1 1084.4 1506.8 1073.6 1508.7 1064.5C1510.6 1055.4 1513 1047.1 1515.1 1040.3C1517.2 1033.6 1519.1 1028.7 1521.4 1023.8C1523.8 1018.9 1526.5 1014.4 1529.1 1011.1C1531.6 1007.8 1534.1 1005.6 1536.7 1004C1539.2 1002.3 1541.8 1001.7 1544.3 1001.2C1546.9 1000.7 1549.4 1000.7 1551.9 1000.9C1554.5 1001.2 1556.6 1001.7 1559.6 1002.7C1562.5 1003.8 1565.9 1005.1 1569.7 1007.3C1573.5 1009.5 1577.8 1012.5 1582.4 1015.7C1587.1 1018.9 1592.6 1022.8 1597.7 1026.4C1602.8 1029.9 1607.9 1033.7 1613 1037C1618 1040.4 1623.1 1043.6 1628.2 1046.7C1633.3 1049.8 1638.4 1052.7 1643.5 1055.6C1648.6 1058.5 1653.6 1061.4 1658.7 1064C1663.8 1066.6 1668.9 1069 1674 1071.4C1679.1 1073.8 1684.2 1076.2 1689.2 1078.5C1694.3 1080.7 1699.4 1082.9 1704.5 1084.8C1709.6 1086.8 1714.7 1088.6 1719.7 1090.4C1724.8 1092.3 1729.9 1094.3 1735 1096C1740.1 1097.8 1745.2 1099.3 1750.3 1100.9C1755.3 1102.4 1760.4 1104 1765.5 1105.4C1770.6 1106.9 1775.7 1108.2 1780.8 1109.5C1785.9 1110.8 1790.9 1112.1 1796 1113.3C1801.1 1114.5 1806.2 1115.7 1811.3 1116.9C1816.4 1118 1821.5 1119.1 1826.5 1120.2C1831.6 1121.2 1836.7 1122.3 1841.8 1123.2C1846.9 1124.2 1852 1125.1 1857 1126C1862.1 1126.9 1867.2 1127.8 1872.3 1128.6C1877.4 1129.4 1882.5 1130.1 1887.6 1130.9C1892.6 1131.6 1897.7 1132.3 1902.8 1132.9C1907.9 1133.5 1912.4 1134 1918.1 1134.7C1923.7 1135.4 1933.5 1136.6 1936.6 1137" fill="none" stroke="#8b0000" stroke-width="1.95" stroke-linejoin="round" stroke-linecap="butt"/>
<rect x="1081.4" y="987.7" width="895.9" height="292.9" fill="none" stroke="#3a3a3a" stroke-width="1.1"/>
<path d="M1121.3 1281.1v3.0M1284.4 1281.1v3.0M1447.4 1281.1v3.0M1610.5 1281.1v3.0M1773.5 1281.1v3.0M1936.6 1281.1v3.0M1080.9 1268.4h-3.0M1080.9 1232h-3.0M1080.9 1195.6h-3.0M1080.9 1159.2h-3.0M1080.9 1122.9h-3.0M1080.9 1086.5h-3.0M1080.9 1050.1h-3.0M1080.9 1013.7h-3.0" stroke="#222" stroke-width="0.9" fill="none"/>
<text x="1118" y="1295.2" font-family="Liberation Serif, serif" font-size="14.3" font-weight="bold" text-anchor="middle">0.0</text>
<text x="1281.1" y="1295.2" font-family="Liberation Serif, serif" font-size="14.3" font-weight="bold" text-anchor="middle">0.2</text>
<text x="1444.1" y="1295.2" font-family="Liberation Serif, serif" font-size="14.3" font-weight="bold" text-anchor="middle">0.4</text>
<text x="1607.2" y="1295.2" font-family="Liberation Serif, serif" font-size="14.3" font-weight="bold" text-anchor="middle">0.6</text>
<text x="1770.2" y="1295.2" font-family="Liberation Serif, serif" font-size="14.3" font-weight="bold" text-anchor="middle">0.8</text>
<text x="1933.3" y="1295.2" font-family="Liberation Serif, serif" font-size="14.3" font-weight="bold" text-anchor="middle">1.0</text>
<text x="1068.1" y="1275.1" font-family="Liberation Serif, serif" font-size="14.3" font-weight="bold" text-anchor="end">0.0</text>
<text x="1068.1" y="1238.7" font-family="Liberation Serif, serif" font-size="14.3" font-weight="bold" text-anchor="end">0.5</text>
<text x="1068.1" y="1202.3" font-family="Liberation Serif, serif" font-size="14.3" font-weight="bold" text-anchor="end">1.0</text>
<text x="1068.1" y="1165.9" font-family="Liberation Serif, serif" font-size="14.3" font-weight="bold" text-anchor="end">1.5</text>
<text x="1068.1" y="1129.6" font-family="Liberation Serif, serif" font-size="14.3" font-weight="bold" text-anchor="end">2.0</text>
<text x="1068.1" y="1093.2" font-family="Liberation Serif, serif" font-size="14.3" font-weight="bold" text-anchor="end">2.5</text>
<text x="1068.1" y="1056.8" font-family="Liberation Serif, serif" font-size="14.3" font-weight="bold" text-anchor="end">3.0</text>
<text x="1068.1" y="1020.4" font-family="Liberation Serif, serif" font-size="14.3" font-weight="bold" text-anchor="end">3.5</text>
<text x="1529.1" y="981.9" font-family="DejaVu Sans, Liberation Sans, sans-serif" font-size="20.7" font-weight="bold" text-anchor="middle" textLength="199.9" lengthAdjust="spacingAndGlyphs">Coronary Flow</text>
<text x="1517.2" y="1315" font-family="Liberation Serif, serif" font-size="18.5" font-weight="bold" text-anchor="middle" textLength="66.1" lengthAdjust="spacingAndGlyphs">Time (s)</text>
<text x="1036.4" y="1157.4" font-family="Liberation Serif, serif" font-size="18.5" font-weight="bold" text-anchor="middle" textLength="96.9" lengthAdjust="spacingAndGlyphs" transform="rotate(-90 1036.4 1157.4)">Flow (mL/s)</text>
<rect x="1901.7" y="992.6" width="69.9" height="51.6" rx="3" fill="#fff" fill-opacity="0.8" stroke="#e6e6e6" stroke-width="1.5"/>
<path d="M1905.2 1002.1H1932.6" stroke="#8b0000" stroke-width="2.1"/>
<text x="1934.5" y="1005.5" font-family="Liberation Serif, serif" font-size="9.1" font-weight="bold" textLength="19.3" lengthAdjust="spacingAndGlyphs">LAD</text>
<path d="M1905.2 1018.2H1932.6" stroke="#ffa500" stroke-width="2.0"/>
<text x="1934.5" y="1021.6" font-family="Liberation Serif, serif" font-size="9.1" font-weight="bold" textLength="19.3" lengthAdjust="spacingAndGlyphs">LCX</text>
<path d="M1905.2 1034.1H1932.6" stroke="#cd853f" stroke-width="2.0"/>
<text x="1934.5" y="1037.5" font-family="Liberation Serif, serif" font-size="9.1" font-weight="bold" textLength="19.6" lengthAdjust="spacingAndGlyphs">RCA</text>
</g>
<rect x="41" y="1591" width="1925" height="58" fill="#cccccc"/>
<g fill="#000">
<rect x="41" y="1438.4" width="1925" height="3.7"/>
<rect x="41" y="1587.2" width="1925" height="4"/>
<rect x="41" y="1708" width="1925" height="3"/>
</g>
<path d="M258.6 1430.3C259.5 1421 263.6 1415 272.6 1415H632.2Q644.1 1415 645.7 1400.2Q647.3 1415 659.2 1415H994.6C1003.6 1415 1007.7 1421 1008.6 1430.3" fill="none" stroke="#000" stroke-width="5.7" stroke-linejoin="bevel" stroke-linecap="butt"/>
<path d="M1154 1430.3C1154.9 1421 1159 1415 1168 1415H1526.5Q1538.4 1415 1540 1400.2Q1541.6 1415 1553.5 1415H1889.4C1898.4 1415 1902.5 1421 1903.4 1430.3" fill="none" stroke="#000" stroke-width="5.7" stroke-linejoin="bevel" stroke-linecap="butt"/>
<text x="662.5" y="1384.1" font-family="Liberation Sans, sans-serif" font-size="24.6" font-weight="bold" text-anchor="middle" textLength="277" lengthAdjust="spacingAndGlyphs">Clinical Measurements</text>
<text x="1554.5" y="1383.7" font-family="Liberation Sans, sans-serif" font-size="24.6" font-weight="bold" text-anchor="middle" textLength="148.5" lengthAdjust="spacingAndGlyphs">LPM Results</text>
<text x="252" y="1470" font-family="Liberation Sans, sans-serif" font-size="22.2" font-weight="bold" text-anchor="middle" textLength="64.6" lengthAdjust="spacingAndGlyphs">Aortic</text>
<text x="252.1" y="1500.8" font-family="Liberation Sans, sans-serif" font-size="22.2" font-weight="bold" text-anchor="middle" textLength="87.8" lengthAdjust="spacingAndGlyphs">Stenosis</text>
<text x="251.7" y="1531.5" font-family="Liberation Sans, sans-serif" font-size="22.2" font-weight="bold" text-anchor="middle" textLength="85.8" lengthAdjust="spacingAndGlyphs">Severity</text>
<text x="391.8" y="1470" font-family="Liberation Sans, sans-serif" font-size="22.2" font-weight="bold" text-anchor="middle" textLength="64.6" lengthAdjust="spacingAndGlyphs">Aortic</text>
<text x="392.1" y="1500.8" font-family="Liberation Sans, sans-serif" font-size="22.2" font-weight="bold" text-anchor="middle" textLength="57" lengthAdjust="spacingAndGlyphs">Valve</text>
<text x="391.4" y="1531.5" font-family="Liberation Sans, sans-serif" font-size="22.2" font-weight="bold" text-anchor="middle" textLength="49" lengthAdjust="spacingAndGlyphs">Area</text>
<text x="391.8" y="1559.3" font-family="Liberation Serif, serif" font-size="21.5" text-anchor="middle" textLength="50.5" lengthAdjust="spacingAndGlyphs">(cm<tspan font-size="14" dy="-8">2</tspan><tspan dy="8">)</tspan></text>
<text x="538.6" y="1470" font-family="Liberation Sans, sans-serif" font-size="22.2" font-weight="bold" text-anchor="middle" textLength="82" lengthAdjust="spacingAndGlyphs">Max AV</text>
<text x="539.2" y="1500.8" font-family="Liberation Sans, sans-serif" font-size="22.2" font-weight="bold" text-anchor="middle" textLength="83.7" lengthAdjust="spacingAndGlyphs">Velocity</text>
<text x="539.3" y="1529.6" font-family="Liberation Sans, sans-serif" font-size="20.2" text-anchor="middle" textLength="48.7" lengthAdjust="spacingAndGlyphs">(m/s)</text>
<text x="702.7" y="1470" font-family="Liberation Sans, sans-serif" font-size="22.2" font-weight="bold" text-anchor="middle" textLength="86.8" lengthAdjust="spacingAndGlyphs">Ejection</text>
<text x="702.7" y="1500.8" font-family="Liberation Sans, sans-serif" font-size="22.2" font-weight="bold" text-anchor="middle" textLength="88.3" lengthAdjust="spacingAndGlyphs">Fraction</text>
<text x="702.8" y="1529.6" font-family="Liberation Sans, sans-serif" font-size="20.2" text-anchor="middle" textLength="30.2" lengthAdjust="spacingAndGlyphs">(%)</text>
<text x="858.6" y="1470" font-family="Liberation Sans, sans-serif" font-size="22.2" font-weight="bold" text-anchor="middle" textLength="78.8" lengthAdjust="spacingAndGlyphs">Cardiac</text>
<text x="858.3" y="1500.8" font-family="Liberation Sans, sans-serif" font-size="22.2" font-weight="bold" text-anchor="middle" textLength="76.4" lengthAdjust="spacingAndGlyphs">Output</text>
<text x="858.7" y="1529.6" font-family="Liberation Sans, sans-serif" font-size="20.2" text-anchor="middle" textLength="59.1" lengthAdjust="spacingAndGlyphs">(mL/s)</text>
<text x="1006.1" y="1470" font-family="Liberation Sans, sans-serif" font-size="22.2" font-weight="bold" text-anchor="middle" textLength="79.6" lengthAdjust="spacingAndGlyphs">Resting</text>
<text x="1005.7" y="1500.8" font-family="Liberation Sans, sans-serif" font-size="22.2" font-weight="bold" text-anchor="middle" textLength="114.5" lengthAdjust="spacingAndGlyphs">Heart Rate</text>
<text x="1006.1" y="1529.6" font-family="Liberation Sans, sans-serif" font-size="20.2" text-anchor="middle" textLength="106.4" lengthAdjust="spacingAndGlyphs">(beats/min)</text>
<text x="1153.7" y="1470" font-family="Liberation Sans, sans-serif" font-size="22.2" font-weight="bold" text-anchor="middle" textLength="62.9" lengthAdjust="spacingAndGlyphs">Mean</text>
<text x="1154.2" y="1500.8" font-family="Liberation Sans, sans-serif" font-size="22.2" font-weight="bold" text-anchor="middle" textLength="80.7" lengthAdjust="spacingAndGlyphs">Arterial</text>
<text x="1153.3" y="1531.5" font-family="Liberation Sans, sans-serif" font-size="22.2" font-weight="bold" text-anchor="middle" textLength="91.4" lengthAdjust="spacingAndGlyphs">Pressure</text>
<text x="1153.7" y="1559.3" font-family="Liberation Sans, sans-serif" font-size="20.2" text-anchor="middle" textLength="73.1" lengthAdjust="spacingAndGlyphs">(mmHg)</text>
<text x="1301.3" y="1470" font-family="Liberation Sans, sans-serif" font-size="22.2" font-weight="bold" text-anchor="middle" textLength="109.2" lengthAdjust="spacingAndGlyphs">Maximum</text>
<text x="1301.1" y="1500.8" font-family="Liberation Sans, sans-serif" font-size="22.2" font-weight="bold" text-anchor="middle" textLength="120.7" lengthAdjust="spacingAndGlyphs">LV Pressure</text>
<text x="1301.4" y="1529.6" font-family="Liberation Sans, sans-serif" font-size="20.2" text-anchor="middle" textLength="73.1" lengthAdjust="spacingAndGlyphs">(mmHg)</text>
<text x="1448.8" y="1470" font-family="Liberation Sans, sans-serif" font-size="22.2" font-weight="bold" text-anchor="middle" textLength="110.6" lengthAdjust="spacingAndGlyphs">Mean LAD</text>
<text x="1448.7" y="1500.8" font-family="Liberation Sans, sans-serif" font-size="22.2" font-weight="bold" text-anchor="middle" textLength="93.8" lengthAdjust="spacingAndGlyphs">Flowrate</text>
<text x="1449.1" y="1529.6" font-family="Liberation Sans, sans-serif" font-size="20.2" text-anchor="middle" textLength="57.9" lengthAdjust="spacingAndGlyphs">(mL/s)</text>
<text x="1596.3" y="1470" font-family="Liberation Sans, sans-serif" font-size="22.2" font-weight="bold" text-anchor="middle" textLength="105.7" lengthAdjust="spacingAndGlyphs">Mean LCX</text>
<text x="1596.5" y="1500.8" font-family="Liberation Sans, sans-serif" font-size="22.2" font-weight="bold" text-anchor="middle" textLength="93.7" lengthAdjust="spacingAndGlyphs">Flowrate</text>
<text x="1596.9" y="1529.6" font-family="Liberation Sans, sans-serif" font-size="20.2" text-anchor="middle" textLength="57.6" lengthAdjust="spacingAndGlyphs">(mL/s)</text>
<text x="1744.1" y="1470" font-family="Liberation Sans, sans-serif" font-size="22.2" font-weight="bold" text-anchor="middle" textLength="110.9" lengthAdjust="spacingAndGlyphs">Mean RCA</text>
<text x="1744.2" y="1500.8" font-family="Liberation Sans, sans-serif" font-size="22.2" font-weight="bold" text-anchor="middle" textLength="93.8" lengthAdjust="spacingAndGlyphs">Flowrate</text>
<text x="1744.6" y="1529.6" font-family="Liberation Sans, sans-serif" font-size="20.2" text-anchor="middle" textLength="57.6" lengthAdjust="spacingAndGlyphs">(mL/s)</text>
<text x="1892" y="1470" font-family="Liberation Sans, sans-serif" font-size="22.2" font-weight="bold" text-anchor="middle" textLength="120.2" lengthAdjust="spacingAndGlyphs">Myocardial</text>
<text x="1891.3" y="1500.8" font-family="Liberation Sans, sans-serif" font-size="22.2" font-weight="bold" text-anchor="middle" textLength="118.5" lengthAdjust="spacingAndGlyphs">Blood Flow</text>
<text x="1892" y="1529.6" font-family="Liberation Sans, sans-serif" font-size="20.2" text-anchor="middle" textLength="102.1" lengthAdjust="spacingAndGlyphs">(mL/min/g)</text>
<text x="109.2" y="1619.1" font-family="Liberation Sans, sans-serif" font-size="22.2" font-weight="bold" text-anchor="middle" textLength="97.5" lengthAdjust="spacingAndGlyphs">Pre-TAVR</text>
<text x="109.5" y="1679" font-family="Liberation Sans, sans-serif" font-size="22.2" font-weight="bold" text-anchor="middle" textLength="108.3" lengthAdjust="spacingAndGlyphs">Post-TAVR</text>
<text x="251.4" y="1619.1" font-family="Liberation Sans, sans-serif" font-size="22.6" text-anchor="middle" textLength="70" lengthAdjust="spacingAndGlyphs">Severe</text>
<text x="251.4" y="1679" font-family="Liberation Sans, sans-serif" font-size="22.6" text-anchor="middle" textLength="8.5" lengthAdjust="spacingAndGlyphs">-</text>
<text x="391.4" y="1619.1" font-family="Liberation Sans, sans-serif" font-size="22.6" text-anchor="middle" textLength="33.2" lengthAdjust="spacingAndGlyphs">0.8</text>
<text x="391.2" y="1679" font-family="Liberation Sans, sans-serif" font-size="22.6" text-anchor="middle" textLength="32.8" lengthAdjust="spacingAndGlyphs">2.3</text>
<text x="539.3" y="1619.1" font-family="Liberation Sans, sans-serif" font-size="22.6" text-anchor="middle" textLength="45.7" lengthAdjust="spacingAndGlyphs">4.19</text>
<text x="538.9" y="1679" font-family="Liberation Sans, sans-serif" font-size="22.6" text-anchor="middle" textLength="46.3" lengthAdjust="spacingAndGlyphs">2.25</text>
<text x="702.9" y="1619.1" font-family="Liberation Sans, sans-serif" font-size="22.6" text-anchor="middle" textLength="26.2" lengthAdjust="spacingAndGlyphs">38</text>
<text x="703.1" y="1679" font-family="Liberation Sans, sans-serif" font-size="22.6" text-anchor="middle" textLength="26" lengthAdjust="spacingAndGlyphs">41</text>
<text x="858.4" y="1619.1" font-family="Liberation Sans, sans-serif" font-size="22.6" text-anchor="middle" textLength="51.8" lengthAdjust="spacingAndGlyphs">5186</text>
<text x="858.3" y="1679" font-family="Liberation Sans, sans-serif" font-size="22.6" text-anchor="middle" textLength="52" lengthAdjust="spacingAndGlyphs">6653</text>
<text x="1006" y="1619.1" font-family="Liberation Sans, sans-serif" font-size="22.6" text-anchor="middle" textLength="27.7" lengthAdjust="spacingAndGlyphs">69</text>
<text x="1006" y="1679" font-family="Liberation Sans, sans-serif" font-size="22.6" text-anchor="middle" textLength="27.2" lengthAdjust="spacingAndGlyphs">71</text>
<text x="1153.5" y="1619.1" font-family="Liberation Sans, sans-serif" font-size="22.6" text-anchor="middle" textLength="46" lengthAdjust="spacingAndGlyphs">79.5</text>
<text x="1153.2" y="1679" font-family="Liberation Sans, sans-serif" font-size="22.6" text-anchor="middle" textLength="59.3" lengthAdjust="spacingAndGlyphs">107.5</text>
<text x="1301.1" y="1619.1" font-family="Liberation Sans, sans-serif" font-size="22.6" text-anchor="middle" textLength="59.2" lengthAdjust="spacingAndGlyphs">142.1</text>
<text x="1301" y="1679" font-family="Liberation Sans, sans-serif" font-size="22.6" text-anchor="middle" textLength="59.1" lengthAdjust="spacingAndGlyphs">148.8</text>
<text x="1449" y="1619.1" font-family="Liberation Sans, sans-serif" font-size="22.6" text-anchor="middle" textLength="45.9" lengthAdjust="spacingAndGlyphs">1.61</text>
<text x="1449.3" y="1679" font-family="Liberation Sans, sans-serif" font-size="22.6" text-anchor="middle" textLength="45.4" lengthAdjust="spacingAndGlyphs">2.11</text>
<text x="1596.7" y="1619.1" font-family="Liberation Sans, sans-serif" font-size="22.6" text-anchor="middle" textLength="46.5" lengthAdjust="spacingAndGlyphs">0.68</text>
<text x="1596.6" y="1679" font-family="Liberation Sans, sans-serif" font-size="22.6" text-anchor="middle" textLength="46.4" lengthAdjust="spacingAndGlyphs">0.90</text>
<text x="1743.8" y="1619.1" font-family="Liberation Sans, sans-serif" font-size="22.6" text-anchor="middle" textLength="45.8" lengthAdjust="spacingAndGlyphs">0.91</text>
<text x="1743.4" y="1679" font-family="Liberation Sans, sans-serif" font-size="22.6" text-anchor="middle" textLength="46.8" lengthAdjust="spacingAndGlyphs">1.19</text>
<text x="1891.9" y="1619.1" font-family="Liberation Sans, sans-serif" font-size="22.6" text-anchor="middle" textLength="46.6" lengthAdjust="spacingAndGlyphs">2.36</text>
<text x="1892.3" y="1679" font-family="Liberation Sans, sans-serif" font-size="22.6" text-anchor="middle" textLength="45.8" lengthAdjust="spacingAndGlyphs">4.06</text>
</svg></body></html>
